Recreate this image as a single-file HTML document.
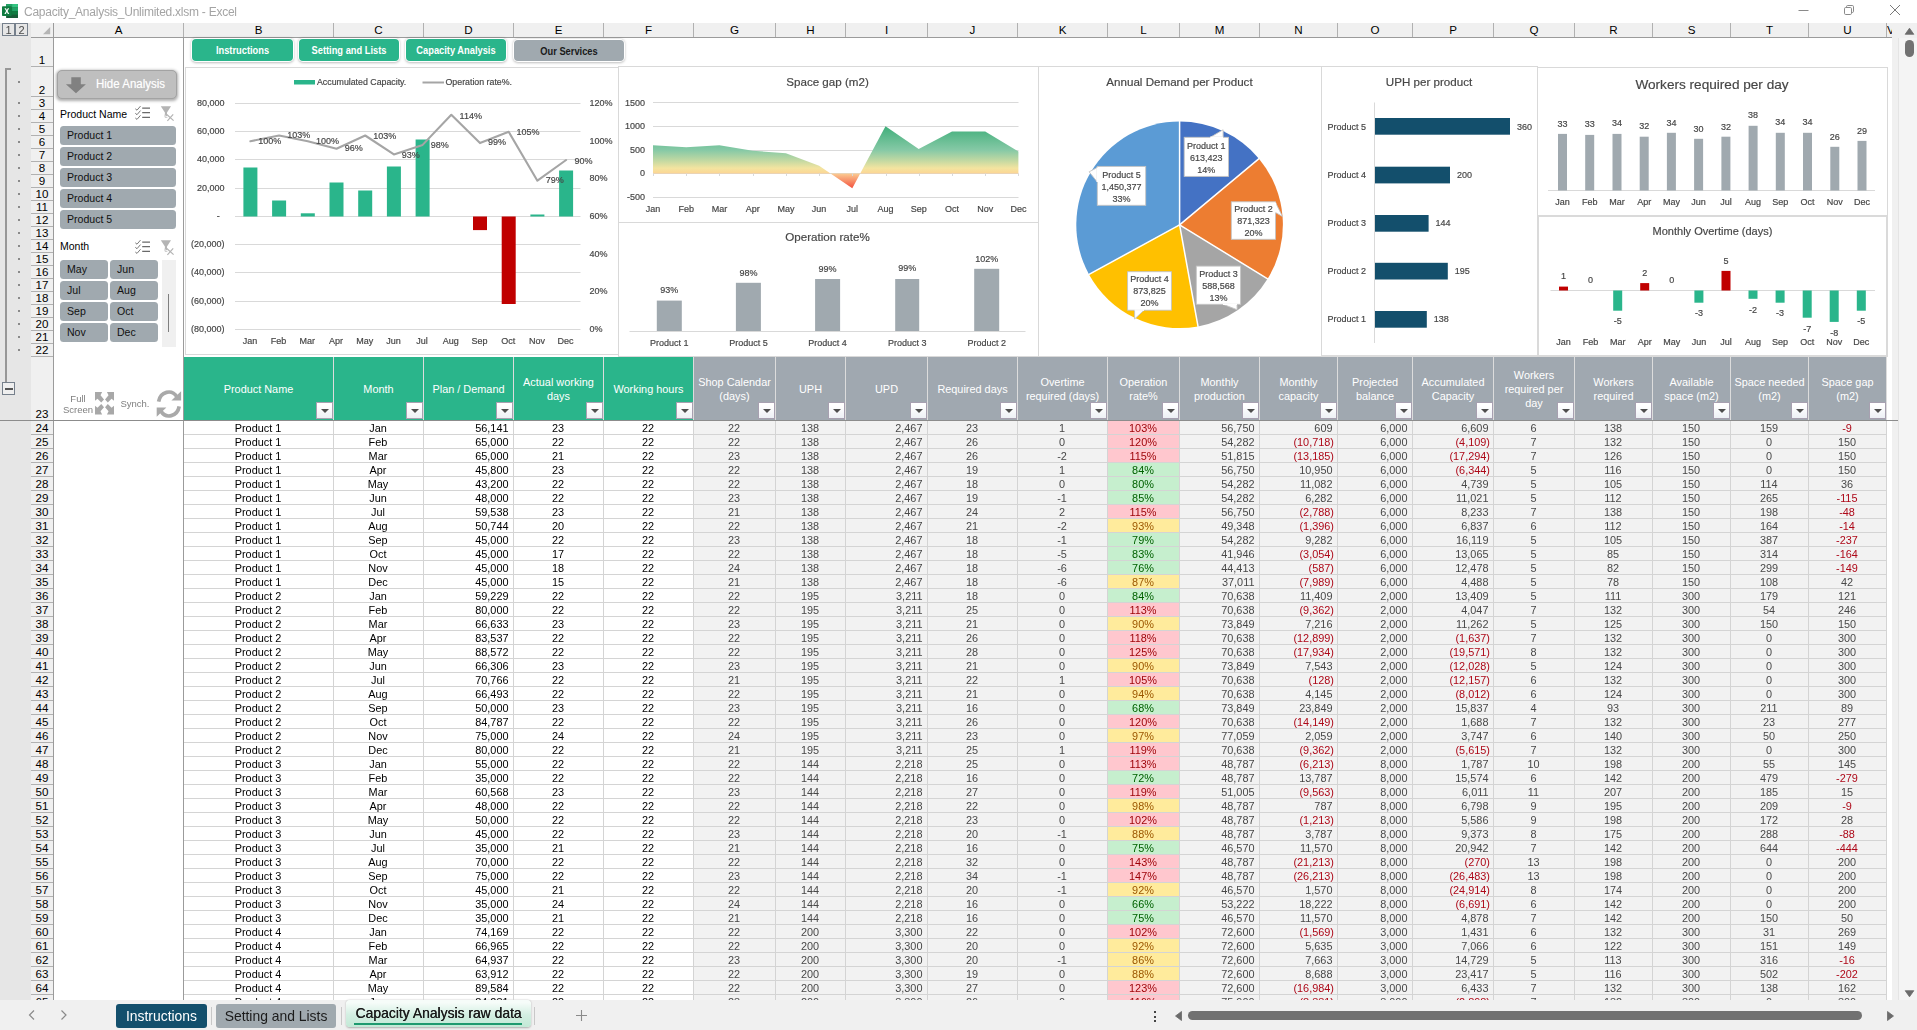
<!DOCTYPE html><html><head><meta charset="utf-8"><title>Capacity Analysis</title><style>
*{box-sizing:border-box;margin:0;padding:0}
html,body{width:1917px;height:1030px;overflow:hidden;background:#fff}
body{position:relative;font-family:"Liberation Sans",sans-serif;font-size:10.9px;color:#000}
.abs{position:absolute}
.colhdr{position:absolute;top:23px;height:15px;background:#f0f0f0;border-bottom:1px solid #9b9b9b;left:31px;width:1862px}
.ch{position:absolute;top:0;height:14px;line-height:14px;text-align:center;font-size:11.6px;color:#000;border-right:1px solid #b1b1b1}
.rowhdr{position:absolute;left:31px;width:23px;background:#f0f0f0;border-right:1px solid #9b9b9b}
.rh{position:absolute;left:0;width:22px;text-align:center;font-size:11.6px;color:#000;border-bottom:1px solid #b1b1b1}
.th{position:absolute;top:357px;height:63px;color:#fff;font-size:10.9px;text-align:center;display:flex;align-items:center;justify-content:center;line-height:14px;border-right:1px solid #dcdcdc;padding-bottom:0px}
.fb{position:absolute;right:0px;bottom:1px;width:17px;height:17px;background:linear-gradient(#ffffff 20%,#edf0f5);border:1px solid #a7a0b0}
.fb:after{content:"";position:absolute;left:3.5px;top:6px;border-left:4px solid transparent;border-right:4px solid transparent;border-top:4.3px solid #4e4e4e}
.tb{position:absolute;left:184px;top:421px;width:1704px;height:579px;overflow:hidden}
.tr{position:absolute;left:0;height:14px;width:1704px}
.td{position:absolute;top:0;height:14px;line-height:14px;border-right:1px solid #d4d4d4;border-bottom:1px solid #d4d4d4;white-space:nowrap;overflow:hidden}
.c{text-align:center;padding-right:1px}
.r{text-align:right}
.g{background:#f2f2f2;color:#484848}
.neg{color:#ad0818}
.opr{background:#ffc7ce;color:#9c0006}
.opg{background:#c6efce;color:#006100}
.opy{background:#ffeb9c;color:#9c5700}
</style></head><body>
<div class="abs" style="left:0;top:0;width:1917px;height:23px;background:#fff"></div>
<svg class="abs" style="left:1.9px;top:3.8px" width="16.1" height="14.2" viewBox="0 0 16.1 14.2">
<rect x="4.1" y="0" width="12" height="14.2" rx="0.8" fill="#185c37"/>
<path d="M4.9 0 H10.1 V3.55 H4.1 V0.8 Q4.1 0 4.9 0 Z" fill="#21a366"/>
<path d="M10.1 0 H15.3 Q16.1 0 16.1 0.8 V3.55 H10.1 Z" fill="#33c481"/>
<rect x="4.1" y="3.55" width="6" height="3.55" fill="#107c41"/><rect x="10.1" y="3.55" width="6" height="3.55" fill="#21a366"/>
<rect x="4.1" y="7.1" width="6" height="3.55" fill="#0e6e39"/><rect x="10.1" y="7.1" width="6" height="3.55" fill="#107c41"/>
<rect x="0" y="2.2" width="9.7" height="9.8" rx="0.8" fill="#107c41"/>
<path d="M2.5 4.2 L3.9 4.2 L4.85 6.1 L5.8 4.2 L7.2 4.2 L5.6 7.1 L7.3 10 L5.9 10 L4.85 8 L3.8 10 L2.4 10 L4.1 7.1 Z" fill="#fff"/>
</svg>
<div class="abs" style="left:24px;top:5px;font-size:12px;line-height:15px;color:#a4a4a4;letter-spacing:-0.25px;will-change:transform">Capacity_Analysis_Unlimited.xlsm - Excel</div>
<svg class="abs" style="left:1790px;top:0" width="127" height="23" viewBox="0 0 127 23">
<path d="M8.5 10.5 H18.5" stroke="#8a8a8a" stroke-width="1" fill="none"/>
<rect x="54.5" y="7.5" width="7" height="7" rx="1.2" stroke="#8a8a8a" stroke-width="1" fill="none"/>
<path d="M56.5 7.5 V6.7 Q56.5 5.5 57.7 5.5 H62.3 Q63.5 5.5 63.5 6.7 V11.3 Q63.5 12.5 62.3 12.5 H61.5" stroke="#8a8a8a" stroke-width="1" fill="none"/>
<path d="M100 5 L110 15 M110 5 L100 15" stroke="#7a7a7a" stroke-width="1" fill="none"/>
</svg>
<div class="abs" style="left:0;top:23px;width:31px;height:977px;background:#e6e6e6"></div>
<div class="abs" style="left:2px;top:23px;width:13px;height:13px;border:1px solid #76808c;font-size:11px;line-height:12px;text-align:center;color:#4a4a4a;will-change:transform">1</div>
<div class="abs" style="left:15px;top:23px;width:13px;height:13px;border:1px solid #76808c;font-size:11px;line-height:12px;text-align:center;color:#4a4a4a;will-change:transform">2</div>
<div class="abs" style="left:5px;top:68px;width:2px;height:314px;background:#979797"></div>
<div class="abs" style="left:5px;top:68px;width:6px;height:2px;background:#979797"></div>
<div class="abs" style="left:2px;top:382px;width:13px;height:13px;border:1px solid #76808c;background:#efefef"></div>
<div class="abs" style="left:5px;top:388px;width:8px;height:2px;background:#555"></div>
<div class="abs" style="left:18px;top:81px;width:2px;height:2px;background:#8a8a8a"></div>
<div class="abs" style="left:18px;top:102px;width:2px;height:2px;background:#8a8a8a"></div>
<div class="abs" style="left:18px;top:115px;width:2px;height:2px;background:#8a8a8a"></div>
<div class="abs" style="left:18px;top:128px;width:2px;height:2px;background:#8a8a8a"></div>
<div class="abs" style="left:18px;top:141px;width:2px;height:2px;background:#8a8a8a"></div>
<div class="abs" style="left:18px;top:154px;width:2px;height:2px;background:#8a8a8a"></div>
<div class="abs" style="left:18px;top:167px;width:2px;height:2px;background:#8a8a8a"></div>
<div class="abs" style="left:18px;top:180px;width:2px;height:2px;background:#8a8a8a"></div>
<div class="abs" style="left:18px;top:193px;width:2px;height:2px;background:#8a8a8a"></div>
<div class="abs" style="left:18px;top:206px;width:2px;height:2px;background:#8a8a8a"></div>
<div class="abs" style="left:18px;top:219px;width:2px;height:2px;background:#8a8a8a"></div>
<div class="abs" style="left:18px;top:232px;width:2px;height:2px;background:#8a8a8a"></div>
<div class="abs" style="left:18px;top:245px;width:2px;height:2px;background:#8a8a8a"></div>
<div class="abs" style="left:18px;top:258px;width:2px;height:2px;background:#8a8a8a"></div>
<div class="abs" style="left:18px;top:271px;width:2px;height:2px;background:#8a8a8a"></div>
<div class="abs" style="left:18px;top:284px;width:2px;height:2px;background:#8a8a8a"></div>
<div class="abs" style="left:18px;top:297px;width:2px;height:2px;background:#8a8a8a"></div>
<div class="abs" style="left:18px;top:310px;width:2px;height:2px;background:#8a8a8a"></div>
<div class="abs" style="left:18px;top:323px;width:2px;height:2px;background:#8a8a8a"></div>
<div class="abs" style="left:18px;top:336px;width:2px;height:2px;background:#8a8a8a"></div>
<div class="abs" style="left:18px;top:349px;width:2px;height:2px;background:#8a8a8a"></div>
<div class="colhdr">
<div class="ch" style="left:0px;width:23px;border-right:1px solid #9b9b9b"></div>
<svg class="abs" style="left:12px;top:4px" width="8" height="8"><path d="M7.2 0 L7.2 7.2 L0 7.2 Z" fill="#b5b5b5"/></svg>
<div class="ch" style="left:23px;width:130px">A</div>
<div class="ch" style="left:153px;width:150px">B</div>
<div class="ch" style="left:303px;width:90px">C</div>
<div class="ch" style="left:393px;width:90px">D</div>
<div class="ch" style="left:483px;width:90px">E</div>
<div class="ch" style="left:573px;width:90px">F</div>
<div class="ch" style="left:663px;width:82px">G</div>
<div class="ch" style="left:745px;width:70px">H</div>
<div class="ch" style="left:815px;width:82px">I</div>
<div class="ch" style="left:897px;width:90px">J</div>
<div class="ch" style="left:987px;width:90px">K</div>
<div class="ch" style="left:1077px;width:72px">L</div>
<div class="ch" style="left:1149px;width:80px">M</div>
<div class="ch" style="left:1229px;width:78px">N</div>
<div class="ch" style="left:1307px;width:75px">O</div>
<div class="ch" style="left:1382px;width:81px">P</div>
<div class="ch" style="left:1463px;width:81px">Q</div>
<div class="ch" style="left:1544px;width:78px">R</div>
<div class="ch" style="left:1622px;width:78px">S</div>
<div class="ch" style="left:1700px;width:78px">T</div>
<div class="ch" style="left:1778px;width:78px">U</div>
<div class="ch" style="left:1856px;width:6px;border-right:none;overflow:hidden;text-align:left">V</div>
</div>
<div class="rowhdr" style="top:38px;height:962px">
<div class="rh" style="top:0px;height:29px;line-height:11px;padding-top:16px;">1</div>
<div class="rh" style="top:29px;height:30px;line-height:11px;padding-top:17px;">2</div>
<div class="rh" style="top:59px;height:13px;line-height:11px;padding-top:0px;">3</div>
<div class="rh" style="top:72px;height:13px;line-height:11px;padding-top:0px;">4</div>
<div class="rh" style="top:85px;height:13px;line-height:11px;padding-top:0px;">5</div>
<div class="rh" style="top:98px;height:13px;line-height:11px;padding-top:0px;">6</div>
<div class="rh" style="top:111px;height:13px;line-height:11px;padding-top:0px;">7</div>
<div class="rh" style="top:124px;height:13px;line-height:11px;padding-top:0px;">8</div>
<div class="rh" style="top:137px;height:13px;line-height:11px;padding-top:0px;">9</div>
<div class="rh" style="top:150px;height:13px;line-height:11px;padding-top:0px;">10</div>
<div class="rh" style="top:163px;height:13px;line-height:11px;padding-top:0px;">11</div>
<div class="rh" style="top:176px;height:13px;line-height:11px;padding-top:0px;">12</div>
<div class="rh" style="top:189px;height:13px;line-height:11px;padding-top:0px;">13</div>
<div class="rh" style="top:202px;height:13px;line-height:11px;padding-top:0px;">14</div>
<div class="rh" style="top:215px;height:13px;line-height:11px;padding-top:0px;">15</div>
<div class="rh" style="top:228px;height:13px;line-height:11px;padding-top:0px;">16</div>
<div class="rh" style="top:241px;height:13px;line-height:11px;padding-top:0px;">17</div>
<div class="rh" style="top:254px;height:13px;line-height:11px;padding-top:0px;">18</div>
<div class="rh" style="top:267px;height:13px;line-height:11px;padding-top:0px;">19</div>
<div class="rh" style="top:280px;height:13px;line-height:11px;padding-top:0px;">20</div>
<div class="rh" style="top:293px;height:13px;line-height:11px;padding-top:0px;">21</div>
<div class="rh" style="top:306px;height:13px;line-height:11px;padding-top:0px;">22</div>
<div class="rh" style="top:319px;height:64px;line-height:11px;padding-top:51px;border-bottom:1px solid #8c8c8c;">23</div>
<div class="rh" style="top:383px;height:14px;line-height:14px;padding-top:0px;">24</div>
<div class="rh" style="top:397px;height:14px;line-height:14px;padding-top:0px;">25</div>
<div class="rh" style="top:411px;height:14px;line-height:14px;padding-top:0px;">26</div>
<div class="rh" style="top:425px;height:14px;line-height:14px;padding-top:0px;">27</div>
<div class="rh" style="top:439px;height:14px;line-height:14px;padding-top:0px;">28</div>
<div class="rh" style="top:453px;height:14px;line-height:14px;padding-top:0px;">29</div>
<div class="rh" style="top:467px;height:14px;line-height:14px;padding-top:0px;">30</div>
<div class="rh" style="top:481px;height:14px;line-height:14px;padding-top:0px;">31</div>
<div class="rh" style="top:495px;height:14px;line-height:14px;padding-top:0px;">32</div>
<div class="rh" style="top:509px;height:14px;line-height:14px;padding-top:0px;">33</div>
<div class="rh" style="top:523px;height:14px;line-height:14px;padding-top:0px;">34</div>
<div class="rh" style="top:537px;height:14px;line-height:14px;padding-top:0px;">35</div>
<div class="rh" style="top:551px;height:14px;line-height:14px;padding-top:0px;">36</div>
<div class="rh" style="top:565px;height:14px;line-height:14px;padding-top:0px;">37</div>
<div class="rh" style="top:579px;height:14px;line-height:14px;padding-top:0px;">38</div>
<div class="rh" style="top:593px;height:14px;line-height:14px;padding-top:0px;">39</div>
<div class="rh" style="top:607px;height:14px;line-height:14px;padding-top:0px;">40</div>
<div class="rh" style="top:621px;height:14px;line-height:14px;padding-top:0px;">41</div>
<div class="rh" style="top:635px;height:14px;line-height:14px;padding-top:0px;">42</div>
<div class="rh" style="top:649px;height:14px;line-height:14px;padding-top:0px;">43</div>
<div class="rh" style="top:663px;height:14px;line-height:14px;padding-top:0px;">44</div>
<div class="rh" style="top:677px;height:14px;line-height:14px;padding-top:0px;">45</div>
<div class="rh" style="top:691px;height:14px;line-height:14px;padding-top:0px;">46</div>
<div class="rh" style="top:705px;height:14px;line-height:14px;padding-top:0px;">47</div>
<div class="rh" style="top:719px;height:14px;line-height:14px;padding-top:0px;">48</div>
<div class="rh" style="top:733px;height:14px;line-height:14px;padding-top:0px;">49</div>
<div class="rh" style="top:747px;height:14px;line-height:14px;padding-top:0px;">50</div>
<div class="rh" style="top:761px;height:14px;line-height:14px;padding-top:0px;">51</div>
<div class="rh" style="top:775px;height:14px;line-height:14px;padding-top:0px;">52</div>
<div class="rh" style="top:789px;height:14px;line-height:14px;padding-top:0px;">53</div>
<div class="rh" style="top:803px;height:14px;line-height:14px;padding-top:0px;">54</div>
<div class="rh" style="top:817px;height:14px;line-height:14px;padding-top:0px;">55</div>
<div class="rh" style="top:831px;height:14px;line-height:14px;padding-top:0px;">56</div>
<div class="rh" style="top:845px;height:14px;line-height:14px;padding-top:0px;">57</div>
<div class="rh" style="top:859px;height:14px;line-height:14px;padding-top:0px;">58</div>
<div class="rh" style="top:873px;height:14px;line-height:14px;padding-top:0px;">59</div>
<div class="rh" style="top:887px;height:14px;line-height:14px;padding-top:0px;">60</div>
<div class="rh" style="top:901px;height:14px;line-height:14px;padding-top:0px;">61</div>
<div class="rh" style="top:915px;height:14px;line-height:14px;padding-top:0px;">62</div>
<div class="rh" style="top:929px;height:14px;line-height:14px;padding-top:0px;">63</div>
<div class="rh" style="top:943px;height:14px;line-height:14px;padding-top:0px;">64</div>
<div class="rh" style="top:957px;height:14px;line-height:14px;padding-top:0px;">65</div>
</div>
<div class="abs" style="left:183px;top:38px;width:1px;height:962px;background:#9b9b9b"></div>
<div class="abs" style="left:192px;top:39px;width:101px;height:22px;border-radius:4px;background:#2ab58b;box-shadow:0 0 0 1px #fff,0 0.5px 2.5px 1px rgba(0,0,0,.26)"></div>
<div class="abs" style="left:192px;top:39px;width:101px;height:22px;color:#fff;font-size:10px;font-weight:bold;line-height:24px;text-align:center;transform:scaleX(0.93);white-space:nowrap">Instructions</div>
<div class="abs" style="left:299px;top:39px;width:100px;height:22px;border-radius:4px;background:#2ab58b;box-shadow:0 0 0 1px #fff,0 0.5px 2.5px 1px rgba(0,0,0,.26)"></div>
<div class="abs" style="left:299px;top:39px;width:100px;height:22px;color:#fff;font-size:10px;font-weight:bold;line-height:24px;text-align:center;transform:scaleX(0.93);white-space:nowrap">Setting and Lists</div>
<div class="abs" style="left:406px;top:39px;width:100px;height:22px;border-radius:4px;background:#2ab58b;box-shadow:0 0 0 1px #fff,0 0.5px 2.5px 1px rgba(0,0,0,.26)"></div>
<div class="abs" style="left:406px;top:39px;width:100px;height:22px;color:#fff;font-size:10px;font-weight:bold;line-height:24px;text-align:center;transform:scaleX(0.93);white-space:nowrap">Capacity Analysis</div>
<div class="abs" style="left:514px;top:40px;width:110px;height:21px;border-radius:4px;background:#a0a9af;box-shadow:0 0 0 1px #fff,0 0.5px 2.5px 1px rgba(0,0,0,.26)"></div>
<div class="abs" style="left:514px;top:40px;width:110px;height:21px;color:#1a1a1a;font-size:10px;font-weight:bold;line-height:23px;text-align:center;transform:scaleX(0.93);white-space:nowrap">Our Services</div>
<div class="abs" style="left:1892px;top:23px;width:25px;height:977px;background:#f0f0f0"></div>
<div class="abs" style="left:1898px;top:38px;width:19px;height:962px;background:#f4f4f4;border-left:1px solid #e4e4e4"></div>
<svg class="abs" style="left:1904px;top:27px" width="11" height="9"><path d="M5.5 1.2 L9.8 7.3 L1.2 7.3 Z" fill="#6b6b6b" stroke="#6b6b6b" stroke-width="0.8" stroke-linejoin="round"/></svg>
<div class="abs" style="left:1905px;top:40px;width:9px;height:17px;border-radius:4.5px;background:#717171"></div>
<svg class="abs" style="left:1904px;top:989px" width="11" height="9"><path d="M1.2 1.7 L9.8 1.7 L5.5 7.8 Z" fill="#6b6b6b" stroke="#6b6b6b" stroke-width="0.8" stroke-linejoin="round"/></svg>
<div class="abs" style="left:0;top:1000px;width:1917px;height:30px;background:#f0f0f0"></div>
<svg class="abs" style="left:24px;top:1008px" width="50" height="14" viewBox="0 0 50 14">
<path d="M10 2.5 L5.5 7 L10 11.5" stroke="#8a8a8a" stroke-width="1.2" fill="none"/>
<path d="M37.5 2.5 L42 7 L37.5 11.5" stroke="#8a8a8a" stroke-width="1.2" fill="none"/></svg>
<div class="abs" style="left:116px;top:1004px;width:91px;height:24px;border-radius:3px;background:#134f6c;color:#fff;font-size:13.9px;line-height:24px;text-align:center;will-change:transform">Instructions</div>
<div class="abs" style="left:216px;top:1004px;width:120px;height:24px;border-radius:3px;background:#a0a9af;color:#1b1b1b;font-size:13.9px;line-height:24px;text-align:center;will-change:transform">Setting and Lists</div>
<div class="abs" style="left:346px;top:1000px;width:185px;height:27px;border-radius:4px;background:linear-gradient(#f6fcf9 10%,#d3efe2 55%,#c2e9d6);color:#1b1b1b;font-size:13.9px;line-height:26px;text-align:center;box-shadow:0 0.5px 2px rgba(0,0,0,.28);text-shadow:0.3px 0 0 #1b1b1b;will-change:transform">Capacity Analysis raw data</div>
<div class="abs" style="left:354px;top:1023px;width:168px;height:2px;background:#1e9a6f"></div>
<div class="abs" style="left:211px;top:1007px;width:1px;height:18px;background:#c8c8c8"></div>
<div class="abs" style="left:341px;top:1007px;width:1px;height:18px;background:#c8c8c8"></div>
<div class="abs" style="left:534px;top:1007px;width:1px;height:18px;background:#c8c8c8"></div>
<svg class="abs" style="left:575px;top:1009px" width="13" height="13"><path d="M6.5 1 V12 M1 6.5 H12" stroke="#8a8a8a" stroke-width="1.1" fill="none"/></svg>
<div class="abs" style="left:1154px;top:1011px;width:2px;height:2px;background:#444"></div>
<div class="abs" style="left:1154px;top:1015.5px;width:2px;height:2px;background:#444"></div>
<div class="abs" style="left:1154px;top:1020px;width:2px;height:2px;background:#444"></div>
<svg class="abs" style="left:1174px;top:1010px" width="9" height="12"><path d="M7.5 1.5 L7.5 10.5 L1.5 6 Z" fill="#6b6b6b" stroke="#6b6b6b" stroke-width="0.8" stroke-linejoin="round"/></svg>
<div class="abs" style="left:1188px;top:1011px;width:674px;height:9px;border-radius:4.5px;background:#717171"></div>
<svg class="abs" style="left:1886px;top:1010px" width="9" height="12"><path d="M1.5 1.5 L1.5 10.5 L7.5 6 Z" fill="#6b6b6b" stroke="#6b6b6b" stroke-width="0.8" stroke-linejoin="round"/></svg>
<div class="abs" style="left:57px;top:70px;width:120px;height:29px;border-radius:5px;background:#bfbfbf;border:1px solid #a3a3a3;box-shadow:0 1px 3px 0.5px rgba(0,0,0,.32)"></div>
<svg class="abs" style="left:65px;top:76px" width="22" height="18" viewBox="0 0 22 18"><path d="M6.3 1.2 H15.8 V8.3 H20.9 L11 17.2 L0.9 8.3 H6.3 Z" fill="#818181"/></svg>
<div class="abs" style="left:96px;top:76.5px;font-size:12.3px;line-height:14px;color:#fff;transform:scaleX(0.935);transform-origin:left center;white-space:nowrap;text-shadow:0 0 1px rgba(255,255,255,.5)">Hide Analysis</div>
<div class="abs" style="left:60px;top:107px;font-size:10.5px;line-height:14px;color:#000">Product Name</div>
<svg class="abs" style="left:134px;top:105px" width="42" height="17" viewBox="0 0 42 17">
<g stroke="#6a6a6a" stroke-width="1.2" fill="none">
<path d="M8.2 3.2 H16 M8.2 7.6 H16 M8.2 12.4 H16"/></g>
<g stroke="#6a6a6a" stroke-width="0.9" fill="none">
<path d="M1.3 3.8 L3 5.2 L6.5 1.1 M1.3 8.3 L3 9.7 L6.5 5.6 M1.3 13 L3 14.4 L6.5 10.3"/></g>
<path d="M26.8 1.3 H37 L33 7.6 V11.3 L30.9 10.2 V7.6 Z" fill="#b4b4b4"/>
<path d="M32.8 9.5 L39.6 15.6 M39.2 9.3 L33.4 15.8" stroke="#b4b4b4" stroke-width="1.2" fill="none"/>
<path d="M31 9.6 v2.7 h2.4" stroke="#c6c6c6" stroke-width="1" fill="none"/>
</svg>
<div class="abs" style="left:60px;top:126px;width:116px;height:19px;border-radius:3.5px;background:#a0a9af;font-size:10.55px;line-height:19px;padding-left:7px;color:#111">Product 1</div>
<div class="abs" style="left:60px;top:147px;width:116px;height:19px;border-radius:3.5px;background:#a0a9af;font-size:10.55px;line-height:19px;padding-left:7px;color:#111">Product 2</div>
<div class="abs" style="left:60px;top:168px;width:116px;height:19px;border-radius:3.5px;background:#a0a9af;font-size:10.55px;line-height:19px;padding-left:7px;color:#111">Product 3</div>
<div class="abs" style="left:60px;top:189px;width:116px;height:19px;border-radius:3.5px;background:#a0a9af;font-size:10.55px;line-height:19px;padding-left:7px;color:#111">Product 4</div>
<div class="abs" style="left:60px;top:210px;width:116px;height:19px;border-radius:3.5px;background:#a0a9af;font-size:10.55px;line-height:19px;padding-left:7px;color:#111">Product 5</div>
<div class="abs" style="left:60px;top:239px;font-size:10.5px;line-height:14px;color:#000">Month</div>
<svg class="abs" style="left:134px;top:239px" width="42" height="17" viewBox="0 0 42 17">
<g stroke="#6a6a6a" stroke-width="1.2" fill="none">
<path d="M8.2 3.2 H16 M8.2 7.6 H16 M8.2 12.4 H16"/></g>
<g stroke="#6a6a6a" stroke-width="0.9" fill="none">
<path d="M1.3 3.8 L3 5.2 L6.5 1.1 M1.3 8.3 L3 9.7 L6.5 5.6 M1.3 13 L3 14.4 L6.5 10.3"/></g>
<path d="M26.8 1.3 H37 L33 7.6 V11.3 L30.9 10.2 V7.6 Z" fill="#b4b4b4"/>
<path d="M32.8 9.5 L39.6 15.6 M39.2 9.3 L33.4 15.8" stroke="#b4b4b4" stroke-width="1.2" fill="none"/>
<path d="M31 9.6 v2.7 h2.4" stroke="#c6c6c6" stroke-width="1" fill="none"/>
</svg>
<div class="abs" style="left:60px;top:260px;width:48px;height:19px;border-radius:3.5px;background:#a0a9af;font-size:10.55px;line-height:19px;padding-left:7px;color:#111">May</div>
<div class="abs" style="left:110px;top:260px;width:48px;height:19px;border-radius:3.5px;background:#a0a9af;font-size:10.55px;line-height:19px;padding-left:7px;color:#111">Jun</div>
<div class="abs" style="left:60px;top:281px;width:48px;height:19px;border-radius:3.5px;background:#a0a9af;font-size:10.55px;line-height:19px;padding-left:7px;color:#111">Jul</div>
<div class="abs" style="left:110px;top:281px;width:48px;height:19px;border-radius:3.5px;background:#a0a9af;font-size:10.55px;line-height:19px;padding-left:7px;color:#111">Aug</div>
<div class="abs" style="left:60px;top:302px;width:48px;height:19px;border-radius:3.5px;background:#a0a9af;font-size:10.55px;line-height:19px;padding-left:7px;color:#111">Sep</div>
<div class="abs" style="left:110px;top:302px;width:48px;height:19px;border-radius:3.5px;background:#a0a9af;font-size:10.55px;line-height:19px;padding-left:7px;color:#111">Oct</div>
<div class="abs" style="left:60px;top:323px;width:48px;height:19px;border-radius:3.5px;background:#a0a9af;font-size:10.55px;line-height:19px;padding-left:7px;color:#111">Nov</div>
<div class="abs" style="left:110px;top:323px;width:48px;height:19px;border-radius:3.5px;background:#a0a9af;font-size:10.55px;line-height:19px;padding-left:7px;color:#111">Dec</div>
<div class="abs" style="left:162px;top:260px;width:14px;height:87px;background:#f0f0f0"></div>
<div class="abs" style="left:168px;top:294px;width:1px;height:38px;background:#7f7f7f"></div>
<div class="abs" style="left:58px;top:393.2px;width:40px;font-size:9.5px;line-height:11.4px;color:#7f7f7f;text-align:center;will-change:transform">Full<br>Screen</div>
<svg class="abs" style="left:94.9px;top:392.1px" width="19.07" height="22.56" viewBox="0 0 19.07 22.56"><g fill="#a8a8a8"><path d="M0.00 0.00 L7.13 0.00 L5.53 3.35 L9.02 7.42 L6.26 10.48 L2.47 6.84 L0.00 8.73 Z"/><path d="M19.07 0.00 L11.94 0.00 L13.54 3.35 L10.05 7.42 L12.81 10.48 L16.60 6.84 L19.07 8.73 Z"/><path d="M0.00 22.56 L7.13 22.56 L5.53 19.21 L9.02 15.14 L6.26 12.08 L2.47 15.72 L0.00 13.83 Z"/><path d="M19.07 22.56 L11.94 22.56 L13.54 19.21 L10.05 15.14 L12.81 12.08 L16.60 15.72 L19.07 13.83 Z"/></g></svg>
<div class="abs" style="left:118px;top:397.5px;width:34px;font-size:9.5px;line-height:11px;color:#7f7f7f;text-align:center;will-change:transform">Synch.</div>
<svg class="abs" style="left:156px;top:389px" width="26" height="30" viewBox="0 0 26 30">
<g fill="none" stroke="#a9a9a9" stroke-width="3.7">
<path d="M2.6 12.6 A 10.3 12 0 0 1 21 8"/>
<path d="M23.2 17.4 A 10.3 12 0 0 1 4.8 22"/>
</g>
<path d="M25.1 2.2 V11.6 H15.4 Z" fill="#a9a9a9"/>
<path d="M0.7 27.8 V18.4 H10.4 Z" fill="#a9a9a9"/>
</svg>
<svg class="abs" style="left:0;top:0" width="1917" height="1030" viewBox="0 0 1917 1030" font-family="Liberation Sans, sans-serif"><defs>
<linearGradient id="sg" gradientUnits="userSpaceOnUse" x1="0" y1="126" x2="0" y2="188">
<stop offset="0" stop-color="#3fae7a"/><stop offset="0.39" stop-color="#86c9a6"/><stop offset="0.56" stop-color="#c3d9a2"/>
<stop offset="0.68" stop-color="#f3e4a0"/><stop offset="0.75" stop-color="#fbd896"/><stop offset="0.79" stop-color="#fabf8a"/><stop offset="1" stop-color="#f4533f"/>
</linearGradient></defs><rect x="185.5" y="67.5" width="433" height="287" fill="#fff" stroke="#d9d9d9"/>
<rect x="294" y="80" width="21" height="4.5" fill="#2ab58b"/>
<text x="317.0" y="85.0" text-anchor="start" font-size="8.8" fill="#464646" stroke="#464646" stroke-width="0.18" >Accumulated Capacity.</text>
<path d="M422.5 82.5 H444" stroke="#a5a5a5" stroke-width="2"/>
<text x="445.5" y="85.0" text-anchor="start" font-size="8.8" fill="#464646" stroke="#464646" stroke-width="0.18" >Operation rate%.</text>
<path d="M235 103.5 H580.5" stroke="#d9d9d9" stroke-width="1"/>
<text x="224.5" y="106.2" text-anchor="end" font-size="9.0" fill="#464646" stroke="#464646" stroke-width="0.18" >80,000</text>
<path d="M235 131.5 H580.5" stroke="#d9d9d9" stroke-width="1"/>
<text x="224.5" y="134.2" text-anchor="end" font-size="9.0" fill="#464646" stroke="#464646" stroke-width="0.18" >60,000</text>
<path d="M235 159.5 H580.5" stroke="#d9d9d9" stroke-width="1"/>
<text x="224.5" y="162.2" text-anchor="end" font-size="9.0" fill="#464646" stroke="#464646" stroke-width="0.18" >40,000</text>
<path d="M235 188.5 H580.5" stroke="#d9d9d9" stroke-width="1"/>
<text x="224.5" y="191.2" text-anchor="end" font-size="9.0" fill="#464646" stroke="#464646" stroke-width="0.18" >20,000</text>
<path d="M235 216.5 H580.5" stroke="#d9d9d9" stroke-width="1"/>
<text x="218.3" y="219.0" text-anchor="middle" font-size="9.0" fill="#464646" stroke="#464646" stroke-width="0.18" >-</text>
<path d="M235 244.5 H580.5" stroke="#d9d9d9" stroke-width="1"/>
<text x="224.5" y="247.2" text-anchor="end" font-size="9.0" fill="#464646" stroke="#464646" stroke-width="0.18" >(20,000)</text>
<path d="M235 272.5 H580.5" stroke="#d9d9d9" stroke-width="1"/>
<text x="224.5" y="275.2" text-anchor="end" font-size="9.0" fill="#464646" stroke="#464646" stroke-width="0.18" >(40,000)</text>
<path d="M235 301.5 H580.5" stroke="#d9d9d9" stroke-width="1"/>
<text x="224.5" y="304.2" text-anchor="end" font-size="9.0" fill="#464646" stroke="#464646" stroke-width="0.18" >(60,000)</text>
<path d="M235 329.5 H580.5" stroke="#d9d9d9" stroke-width="1"/>
<text x="224.5" y="332.2" text-anchor="end" font-size="9.0" fill="#464646" stroke="#464646" stroke-width="0.18" >(80,000)</text>
<text x="589.5" y="106.0" text-anchor="start" font-size="9.0" fill="#464646" stroke="#464646" stroke-width="0.18" >120%</text>
<text x="589.5" y="144.1" text-anchor="start" font-size="9.0" fill="#464646" stroke="#464646" stroke-width="0.18" >100%</text>
<text x="589.5" y="181.1" text-anchor="start" font-size="9.0" fill="#464646" stroke="#464646" stroke-width="0.18" >80%</text>
<text x="589.5" y="218.9" text-anchor="start" font-size="9.0" fill="#464646" stroke="#464646" stroke-width="0.18" >60%</text>
<text x="589.5" y="257.0" text-anchor="start" font-size="9.0" fill="#464646" stroke="#464646" stroke-width="0.18" >40%</text>
<text x="589.5" y="293.7" text-anchor="start" font-size="9.0" fill="#464646" stroke="#464646" stroke-width="0.18" >20%</text>
<text x="589.5" y="331.8" text-anchor="start" font-size="9.0" fill="#464646" stroke="#464646" stroke-width="0.18" >0%</text>
<rect x="243.4" y="167.5" width="14" height="49.0" fill="#2ab58b"/>
<rect x="272.1" y="200.5" width="14" height="16.0" fill="#2ab58b"/>
<rect x="300.8" y="213.3" width="14" height="3.2" fill="#2ab58b"/>
<rect x="329.5" y="182.5" width="14" height="34.0" fill="#2ab58b"/>
<rect x="358.2" y="190.5" width="14" height="26.0" fill="#2ab58b"/>
<rect x="386.9" y="166.5" width="14" height="50.0" fill="#2ab58b"/>
<rect x="415.6" y="139.5" width="14" height="77.0" fill="#2ab58b"/>
<rect x="473.0" y="216.5" width="14" height="13.6" fill="#c00000"/>
<rect x="501.7" y="216.5" width="14" height="87.5" fill="#c00000"/>
<rect x="530.4" y="214.5" width="14" height="2.0" fill="#2ab58b"/>
<rect x="559.1" y="170.5" width="14" height="46.0" fill="#2ab58b"/>
<text x="249.9" y="344.0" text-anchor="middle" font-size="9.0" fill="#464646" stroke="#464646" stroke-width="0.18" >Jan</text>
<text x="278.6" y="344.0" text-anchor="middle" font-size="9.0" fill="#464646" stroke="#464646" stroke-width="0.18" >Feb</text>
<text x="307.3" y="344.0" text-anchor="middle" font-size="9.0" fill="#464646" stroke="#464646" stroke-width="0.18" >Mar</text>
<text x="336.0" y="344.0" text-anchor="middle" font-size="9.0" fill="#464646" stroke="#464646" stroke-width="0.18" >Apr</text>
<text x="364.7" y="344.0" text-anchor="middle" font-size="9.0" fill="#464646" stroke="#464646" stroke-width="0.18" >May</text>
<text x="393.4" y="344.0" text-anchor="middle" font-size="9.0" fill="#464646" stroke="#464646" stroke-width="0.18" >Jun</text>
<text x="422.1" y="344.0" text-anchor="middle" font-size="9.0" fill="#464646" stroke="#464646" stroke-width="0.18" >Jul</text>
<text x="450.8" y="344.0" text-anchor="middle" font-size="9.0" fill="#464646" stroke="#464646" stroke-width="0.18" >Aug</text>
<text x="479.5" y="344.0" text-anchor="middle" font-size="9.0" fill="#464646" stroke="#464646" stroke-width="0.18" >Sep</text>
<text x="508.2" y="344.0" text-anchor="middle" font-size="9.0" fill="#464646" stroke="#464646" stroke-width="0.18" >Oct</text>
<text x="536.9" y="344.0" text-anchor="middle" font-size="9.0" fill="#464646" stroke="#464646" stroke-width="0.18" >Nov</text>
<text x="565.6" y="344.0" text-anchor="middle" font-size="9.0" fill="#464646" stroke="#464646" stroke-width="0.18" >Dec</text>
<polyline fill="none" stroke="#a5a5a5" stroke-width="2.1" stroke-linejoin="round" stroke-linecap="round" points="250.4,141.2 279.1,135.5 307.8,141.2 336.5,148.7 365.2,135.5 393.9,154.4 422.6,144.9 451.3,114.8 480.0,143.1 508.7,131.8 537.4,180.7 566.1,160.0"/>
<text x="269.8" y="144.2" text-anchor="middle" font-size="9.0" fill="#464646" stroke="#464646" stroke-width="0.18" >100%</text>
<text x="298.8" y="137.8" text-anchor="middle" font-size="9.0" fill="#464646" stroke="#464646" stroke-width="0.18" >103%</text>
<text x="327.5" y="144.1" text-anchor="middle" font-size="9.0" fill="#464646" stroke="#464646" stroke-width="0.18" >100%</text>
<text x="353.7" y="151.1" text-anchor="middle" font-size="9.0" fill="#464646" stroke="#464646" stroke-width="0.18" >96%</text>
<text x="384.8" y="138.8" text-anchor="middle" font-size="9.0" fill="#464646" stroke="#464646" stroke-width="0.18" >103%</text>
<text x="410.7" y="158.0" text-anchor="middle" font-size="9.0" fill="#464646" stroke="#464646" stroke-width="0.18" >93%</text>
<text x="439.7" y="147.9" text-anchor="middle" font-size="9.0" fill="#464646" stroke="#464646" stroke-width="0.18" >98%</text>
<text x="470.8" y="118.9" text-anchor="middle" font-size="9.0" fill="#464646" stroke="#464646" stroke-width="0.18" >114%</text>
<text x="497.0" y="144.8" text-anchor="middle" font-size="9.0" fill="#464646" stroke="#464646" stroke-width="0.18" >99%</text>
<text x="528.0" y="135.0" text-anchor="middle" font-size="9.0" fill="#464646" stroke="#464646" stroke-width="0.18" >105%</text>
<text x="554.7" y="183.2" text-anchor="middle" font-size="9.0" fill="#464646" stroke="#464646" stroke-width="0.18" >79%</text>
<text x="583.4" y="164.0" text-anchor="middle" font-size="9.0" fill="#464646" stroke="#464646" stroke-width="0.18" >90%</text>
<rect x="618.5" y="66.5" width="420" height="156" fill="#fff" stroke="#d9d9d9"/>
<text x="827.5" y="86.0" text-anchor="middle" font-size="11.6" fill="#464646" stroke="#464646" stroke-width="0.18" >Space gap (m2)</text>
<path d="M653 102.5 H1018.5" stroke="#d9d9d9" stroke-width="1"/>
<text x="645.0" y="106.3" text-anchor="end" font-size="9.0" fill="#464646" stroke="#464646" stroke-width="0.18" >1500</text>
<path d="M653 126.5 H1018.5" stroke="#d9d9d9" stroke-width="1"/>
<text x="645.0" y="129.3" text-anchor="end" font-size="9.0" fill="#464646" stroke="#464646" stroke-width="0.18" >1000</text>
<path d="M653 150.5 H1018.5" stroke="#d9d9d9" stroke-width="1"/>
<text x="645.0" y="153.3" text-anchor="end" font-size="9.0" fill="#464646" stroke="#464646" stroke-width="0.18" >500</text>
<path d="M653 173.5 H1018.5" stroke="#d9d9d9" stroke-width="1"/>
<text x="645.0" y="176.3" text-anchor="end" font-size="9.0" fill="#464646" stroke="#464646" stroke-width="0.18" >0</text>
<path d="M653 197.5 H1018.5" stroke="#d9d9d9" stroke-width="1"/>
<text x="645.0" y="200.3" text-anchor="end" font-size="9.0" fill="#464646" stroke="#464646" stroke-width="0.18" >-500</text>
<path d="M653 173.5 L653.0 145.3 L686.2 147.3 L719.4 145.3 L752.7 150.8 L785.9 153.2 L819.1 165.8 L852.3 188.2 L885.5 126.3 L918.7 149.1 L952.0 131.5 L985.2 131.5 L1018.4 151.5 L1018.4 173.5 Z" fill="url(#sg)"/>
<path d="M653.5 173.5 V176" stroke="#d9d9d9" stroke-width="1"/>
<text x="653.0" y="212.3" text-anchor="middle" font-size="9.0" fill="#464646" stroke="#464646" stroke-width="0.18" >Jan</text>
<path d="M686.5 173.5 V176" stroke="#d9d9d9" stroke-width="1"/>
<text x="686.2" y="212.3" text-anchor="middle" font-size="9.0" fill="#464646" stroke="#464646" stroke-width="0.18" >Feb</text>
<path d="M719.5 173.5 V176" stroke="#d9d9d9" stroke-width="1"/>
<text x="719.4" y="212.3" text-anchor="middle" font-size="9.0" fill="#464646" stroke="#464646" stroke-width="0.18" >Mar</text>
<path d="M753.5 173.5 V176" stroke="#d9d9d9" stroke-width="1"/>
<text x="752.7" y="212.3" text-anchor="middle" font-size="9.0" fill="#464646" stroke="#464646" stroke-width="0.18" >Apr</text>
<path d="M786.5 173.5 V176" stroke="#d9d9d9" stroke-width="1"/>
<text x="785.9" y="212.3" text-anchor="middle" font-size="9.0" fill="#464646" stroke="#464646" stroke-width="0.18" >May</text>
<path d="M819.5 173.5 V176" stroke="#d9d9d9" stroke-width="1"/>
<text x="819.1" y="212.3" text-anchor="middle" font-size="9.0" fill="#464646" stroke="#464646" stroke-width="0.18" >Jun</text>
<path d="M852.5 173.5 V176" stroke="#d9d9d9" stroke-width="1"/>
<text x="852.3" y="212.3" text-anchor="middle" font-size="9.0" fill="#464646" stroke="#464646" stroke-width="0.18" >Jul</text>
<path d="M886.5 173.5 V176" stroke="#d9d9d9" stroke-width="1"/>
<text x="885.5" y="212.3" text-anchor="middle" font-size="9.0" fill="#464646" stroke="#464646" stroke-width="0.18" >Aug</text>
<path d="M919.5 173.5 V176" stroke="#d9d9d9" stroke-width="1"/>
<text x="918.7" y="212.3" text-anchor="middle" font-size="9.0" fill="#464646" stroke="#464646" stroke-width="0.18" >Sep</text>
<path d="M952.5 173.5 V176" stroke="#d9d9d9" stroke-width="1"/>
<text x="952.0" y="212.3" text-anchor="middle" font-size="9.0" fill="#464646" stroke="#464646" stroke-width="0.18" >Oct</text>
<path d="M985.5 173.5 V176" stroke="#d9d9d9" stroke-width="1"/>
<text x="985.2" y="212.3" text-anchor="middle" font-size="9.0" fill="#464646" stroke="#464646" stroke-width="0.18" >Nov</text>
<path d="M1018.5 173.5 V176" stroke="#d9d9d9" stroke-width="1"/>
<text x="1018.4" y="212.3" text-anchor="middle" font-size="9.0" fill="#464646" stroke="#464646" stroke-width="0.18" >Dec</text>
<rect x="618.5" y="222.5" width="420" height="134" fill="#fff" stroke="#d9d9d9"/>
<text x="827.5" y="241.0" text-anchor="middle" font-size="11.6" fill="#464646" stroke="#464646" stroke-width="0.18" >Operation rate%</text>
<path d="M629.5 331.5 H1025.5" stroke="#d9d9d9" stroke-width="1"/>
<rect x="656.8" y="300.6" width="25" height="30.4" fill="#a0a9af"/>
<text x="669.3" y="293.0" text-anchor="middle" font-size="9.0" fill="#464646" stroke="#464646" stroke-width="0.18" >93%</text>
<text x="669.3" y="346.2" text-anchor="middle" font-size="9.0" fill="#464646" stroke="#464646" stroke-width="0.18" >Product 1</text>
<rect x="735.9" y="282.8" width="25" height="48.2" fill="#a0a9af"/>
<text x="748.4" y="275.8" text-anchor="middle" font-size="9.0" fill="#464646" stroke="#464646" stroke-width="0.18" >98%</text>
<text x="748.4" y="346.2" text-anchor="middle" font-size="9.0" fill="#464646" stroke="#464646" stroke-width="0.18" >Product 5</text>
<rect x="815.1" y="279.0" width="25" height="52.0" fill="#a0a9af"/>
<text x="827.6" y="271.6" text-anchor="middle" font-size="9.0" fill="#464646" stroke="#464646" stroke-width="0.18" >99%</text>
<text x="827.6" y="346.2" text-anchor="middle" font-size="9.0" fill="#464646" stroke="#464646" stroke-width="0.18" >Product 4</text>
<rect x="895.2" y="279.0" width="24" height="52.0" fill="#a0a9af"/>
<text x="907.2" y="270.9" text-anchor="middle" font-size="9.0" fill="#464646" stroke="#464646" stroke-width="0.18" >99%</text>
<text x="907.2" y="346.2" text-anchor="middle" font-size="9.0" fill="#464646" stroke="#464646" stroke-width="0.18" >Product 3</text>
<rect x="974.2" y="268.8" width="25" height="62.2" fill="#a0a9af"/>
<text x="986.7" y="261.8" text-anchor="middle" font-size="9.0" fill="#464646" stroke="#464646" stroke-width="0.18" >102%</text>
<text x="986.7" y="346.2" text-anchor="middle" font-size="9.0" fill="#464646" stroke="#464646" stroke-width="0.18" >Product 2</text>
<rect x="1038.5" y="66.5" width="283" height="290" fill="#fff" stroke="#d9d9d9"/>
<text x="1179.5" y="86.0" text-anchor="middle" font-size="11.6" fill="#464646" stroke="#464646" stroke-width="0.18" >Annual Demand per Product</text>
<path d="M1179.6 224.8 L1179.60 121.50 A103.3 103.3 0 0 1 1258.98 158.70 Z" fill="#4472c4"/>
<path d="M1179.6 224.8 L1258.98 158.70 A103.3 103.3 0 0 1 1267.63 278.85 Z" fill="#ed7d31"/>
<path d="M1179.6 224.8 L1267.63 278.85 A103.3 103.3 0 0 1 1198.02 326.45 Z" fill="#a5a5a5"/>
<path d="M1179.6 224.8 L1198.02 326.45 A103.3 103.3 0 0 1 1089.02 274.46 Z" fill="#ffc000"/>
<path d="M1179.6 224.8 L1089.02 274.46 A103.3 103.3 0 0 1 1179.60 121.50 Z" fill="#5b9bd5"/>
<path d="M1179.6 224.8 L1179.60 121.50" stroke="#fff" stroke-width="1.5" stroke-linecap="round"/>
<path d="M1179.6 224.8 L1258.98 158.70" stroke="#fff" stroke-width="1.5" stroke-linecap="round"/>
<path d="M1179.6 224.8 L1267.63 278.85" stroke="#fff" stroke-width="1.5" stroke-linecap="round"/>
<path d="M1179.6 224.8 L1198.02 326.45" stroke="#fff" stroke-width="1.5" stroke-linecap="round"/>
<path d="M1179.6 224.8 L1089.02 274.46" stroke="#fff" stroke-width="1.5" stroke-linecap="round"/>
<polygon points="1210.3,137.3 1223.1,129.8 1223.1,137.3" fill="#fff" stroke="#c4c4c4" stroke-width="0.9"/>
<rect x="1184.2" y="137.3" width="44.3" height="39.1" fill="#fff" stroke="#c4c4c4" stroke-width="0.9"/>
<path d="M1210.3 137.3 L1223.1 137.3" stroke="#fff" stroke-width="1.4"/>
<text x="1206.3" y="149.1" text-anchor="middle" font-size="9.0" fill="#464646" stroke="#464646" stroke-width="0.18" >Product 1</text>
<text x="1206.3" y="161.0" text-anchor="middle" font-size="9.0" fill="#464646" stroke="#464646" stroke-width="0.18" >613,423</text>
<text x="1206.3" y="172.6" text-anchor="middle" font-size="9.0" fill="#464646" stroke="#464646" stroke-width="0.18" >14%</text>
<polygon points="1275.5,202.6 1282.5,216.5 1275.5,212.5" fill="#fff" stroke="#c4c4c4" stroke-width="0.9"/>
<rect x="1231.3" y="201.8" width="44.2" height="37.5" fill="#fff" stroke="#c4c4c4" stroke-width="0.9"/>
<path d="M1275.5 202.6 L1275.5 212.5" stroke="#fff" stroke-width="1.4"/>
<text x="1253.4" y="212.0" text-anchor="middle" font-size="9.0" fill="#464646" stroke="#464646" stroke-width="0.18" >Product 2</text>
<text x="1253.4" y="224.1" text-anchor="middle" font-size="9.0" fill="#464646" stroke="#464646" stroke-width="0.18" >871,323</text>
<text x="1253.4" y="236.0" text-anchor="middle" font-size="9.0" fill="#464646" stroke="#464646" stroke-width="0.18" >20%</text>
<polygon points="1223.0,304.3 1237.1,309.7 1237.0,304.3" fill="#fff" stroke="#c4c4c4" stroke-width="0.9"/>
<rect x="1196.3" y="266.1" width="44.3" height="38.2" fill="#fff" stroke="#c4c4c4" stroke-width="0.9"/>
<path d="M1223.0 304.3 L1237.0 304.3" stroke="#fff" stroke-width="1.4"/>
<text x="1218.4" y="277.0" text-anchor="middle" font-size="9.0" fill="#464646" stroke="#464646" stroke-width="0.18" >Product 3</text>
<text x="1218.4" y="289.1" text-anchor="middle" font-size="9.0" fill="#464646" stroke="#464646" stroke-width="0.18" >588,568</text>
<text x="1218.4" y="300.8" text-anchor="middle" font-size="9.0" fill="#464646" stroke="#464646" stroke-width="0.18" >13%</text>
<polygon points="1134.6,310.2 1134.6,319.0 1144.0,310.2" fill="#fff" stroke="#c4c4c4" stroke-width="0.9"/>
<rect x="1127.6" y="271.7" width="43.8" height="38.5" fill="#fff" stroke="#c4c4c4" stroke-width="0.9"/>
<path d="M1134.6 310.2 L1144.0 310.2" stroke="#fff" stroke-width="1.4"/>
<text x="1149.5" y="282.2" text-anchor="middle" font-size="9.0" fill="#464646" stroke="#464646" stroke-width="0.18" >Product 4</text>
<text x="1149.5" y="294.2" text-anchor="middle" font-size="9.0" fill="#464646" stroke="#464646" stroke-width="0.18" >873,825</text>
<text x="1149.5" y="305.9" text-anchor="middle" font-size="9.0" fill="#464646" stroke="#464646" stroke-width="0.18" >20%</text>
<polygon points="1097.3,167.6 1089.1,171.8 1097.3,182.0" fill="#fff" stroke="#c4c4c4" stroke-width="0.9"/>
<rect x="1097.3" y="166.4" width="48.4" height="38.9" fill="#fff" stroke="#c4c4c4" stroke-width="0.9"/>
<path d="M1097.3 167.6 L1097.3 182.0" stroke="#fff" stroke-width="1.4"/>
<text x="1121.5" y="178.2" text-anchor="middle" font-size="9.0" fill="#464646" stroke="#464646" stroke-width="0.18" >Product 5</text>
<text x="1121.5" y="190.3" text-anchor="middle" font-size="9.0" fill="#464646" stroke="#464646" stroke-width="0.18" >1,450,377</text>
<text x="1121.5" y="202.0" text-anchor="middle" font-size="9.0" fill="#464646" stroke="#464646" stroke-width="0.18" >33%</text>
<rect x="1321.5" y="66.5" width="216" height="290" fill="#fff" stroke="#d9d9d9"/>
<path d="M1321 356 H1538" stroke="#dcdcdc" stroke-width="2"/>
<text x="1429.0" y="86.0" text-anchor="middle" font-size="11.6" fill="#464646" stroke="#464646" stroke-width="0.18" >UPH per product</text>
<path d="M1374.5 102.5 V343" stroke="#d9d9d9" stroke-width="1"/>
<rect x="1375" y="118.0" width="135.0" height="16.7" fill="#134f6c"/>
<text x="1517.0" y="129.9" text-anchor="start" font-size="9.0" fill="#464646" stroke="#464646" stroke-width="0.18" >360</text>
<text x="1366.0" y="129.9" text-anchor="end" font-size="9.0" fill="#464646" stroke="#464646" stroke-width="0.18" >Product 5</text>
<rect x="1375" y="166.7" width="75.0" height="16.7" fill="#134f6c"/>
<text x="1457.0" y="177.7" text-anchor="start" font-size="9.0" fill="#464646" stroke="#464646" stroke-width="0.18" >200</text>
<text x="1366.0" y="177.7" text-anchor="end" font-size="9.0" fill="#464646" stroke="#464646" stroke-width="0.18" >Product 4</text>
<rect x="1375" y="215.0" width="53.6" height="16.7" fill="#134f6c"/>
<text x="1435.6" y="226.0" text-anchor="start" font-size="9.0" fill="#464646" stroke="#464646" stroke-width="0.18" >144</text>
<text x="1366.0" y="226.0" text-anchor="end" font-size="9.0" fill="#464646" stroke="#464646" stroke-width="0.18" >Product 3</text>
<rect x="1375" y="262.8" width="72.8" height="16.7" fill="#134f6c"/>
<text x="1454.8" y="273.8" text-anchor="start" font-size="9.0" fill="#464646" stroke="#464646" stroke-width="0.18" >195</text>
<text x="1366.0" y="273.8" text-anchor="end" font-size="9.0" fill="#464646" stroke="#464646" stroke-width="0.18" >Product 2</text>
<rect x="1375" y="311.0" width="51.8" height="16.7" fill="#134f6c"/>
<text x="1433.8" y="322.0" text-anchor="start" font-size="9.0" fill="#464646" stroke="#464646" stroke-width="0.18" >138</text>
<text x="1366.0" y="322.0" text-anchor="end" font-size="9.0" fill="#464646" stroke="#464646" stroke-width="0.18" >Product 1</text>
<rect x="1537.5" y="67.5" width="350" height="148.5" fill="#fff" stroke="#d9d9d9" stroke-width="1"/>
<text x="1712.0" y="89.3" text-anchor="middle" font-size="13.6" fill="#464646" stroke="#464646" stroke-width="0.18" >Workers required per day</text>
<path d="M1548 190.5 H1875" stroke="#d9d9d9" stroke-width="1"/>
<rect x="1558.0" y="133.9" width="9" height="56.6" fill="#a0a9af"/>
<text x="1562.5" y="127.3" text-anchor="middle" font-size="9.0" fill="#464646" stroke="#464646" stroke-width="0.18" >33</text>
<text x="1562.5" y="205.3" text-anchor="middle" font-size="9.0" fill="#464646" stroke="#464646" stroke-width="0.18" >Jan</text>
<rect x="1585.2" y="134.9" width="9" height="55.6" fill="#a0a9af"/>
<text x="1589.7" y="127.3" text-anchor="middle" font-size="9.0" fill="#464646" stroke="#464646" stroke-width="0.18" >33</text>
<text x="1589.7" y="205.3" text-anchor="middle" font-size="9.0" fill="#464646" stroke="#464646" stroke-width="0.18" >Feb</text>
<rect x="1612.5" y="133.9" width="9" height="56.6" fill="#a0a9af"/>
<text x="1617.0" y="126.1" text-anchor="middle" font-size="9.0" fill="#464646" stroke="#464646" stroke-width="0.18" >34</text>
<text x="1617.0" y="205.3" text-anchor="middle" font-size="9.0" fill="#464646" stroke="#464646" stroke-width="0.18" >Mar</text>
<rect x="1639.7" y="136.7" width="9" height="53.8" fill="#a0a9af"/>
<text x="1644.2" y="129.2" text-anchor="middle" font-size="9.0" fill="#464646" stroke="#464646" stroke-width="0.18" >32</text>
<text x="1644.2" y="205.3" text-anchor="middle" font-size="9.0" fill="#464646" stroke="#464646" stroke-width="0.18" >Apr</text>
<rect x="1666.9" y="132.8" width="9" height="57.7" fill="#a0a9af"/>
<text x="1671.4" y="126.1" text-anchor="middle" font-size="9.0" fill="#464646" stroke="#464646" stroke-width="0.18" >34</text>
<text x="1671.4" y="205.3" text-anchor="middle" font-size="9.0" fill="#464646" stroke="#464646" stroke-width="0.18" >May</text>
<rect x="1694.1" y="138.8" width="9" height="51.7" fill="#a0a9af"/>
<text x="1698.6" y="132.2" text-anchor="middle" font-size="9.0" fill="#464646" stroke="#464646" stroke-width="0.18" >30</text>
<text x="1698.6" y="205.3" text-anchor="middle" font-size="9.0" fill="#464646" stroke="#464646" stroke-width="0.18" >Jun</text>
<rect x="1721.4" y="136.7" width="9" height="53.8" fill="#a0a9af"/>
<text x="1725.9" y="130.4" text-anchor="middle" font-size="9.0" fill="#464646" stroke="#464646" stroke-width="0.18" >32</text>
<text x="1725.9" y="205.3" text-anchor="middle" font-size="9.0" fill="#464646" stroke="#464646" stroke-width="0.18" >Jul</text>
<rect x="1748.6" y="125.8" width="9" height="64.7" fill="#a0a9af"/>
<text x="1753.1" y="118.3" text-anchor="middle" font-size="9.0" fill="#464646" stroke="#464646" stroke-width="0.18" >38</text>
<text x="1753.1" y="205.3" text-anchor="middle" font-size="9.0" fill="#464646" stroke="#464646" stroke-width="0.18" >Aug</text>
<rect x="1775.8" y="132.8" width="9" height="57.7" fill="#a0a9af"/>
<text x="1780.3" y="125.2" text-anchor="middle" font-size="9.0" fill="#464646" stroke="#464646" stroke-width="0.18" >34</text>
<text x="1780.3" y="205.3" text-anchor="middle" font-size="9.0" fill="#464646" stroke="#464646" stroke-width="0.18" >Sep</text>
<rect x="1803.0" y="132.8" width="9" height="57.7" fill="#a0a9af"/>
<text x="1807.5" y="125.2" text-anchor="middle" font-size="9.0" fill="#464646" stroke="#464646" stroke-width="0.18" >34</text>
<text x="1807.5" y="205.3" text-anchor="middle" font-size="9.0" fill="#464646" stroke="#464646" stroke-width="0.18" >Oct</text>
<rect x="1830.3" y="146.8" width="9" height="43.7" fill="#a0a9af"/>
<text x="1834.8" y="140.4" text-anchor="middle" font-size="9.0" fill="#464646" stroke="#464646" stroke-width="0.18" >26</text>
<text x="1834.8" y="205.3" text-anchor="middle" font-size="9.0" fill="#464646" stroke="#464646" stroke-width="0.18" >Nov</text>
<rect x="1857.5" y="140.9" width="9" height="49.6" fill="#a0a9af"/>
<text x="1862.0" y="134.3" text-anchor="middle" font-size="9.0" fill="#464646" stroke="#464646" stroke-width="0.18" >29</text>
<text x="1862.0" y="205.3" text-anchor="middle" font-size="9.0" fill="#464646" stroke="#464646" stroke-width="0.18" >Dec</text>
<rect x="1538" y="216" width="349" height="140" fill="#fff" stroke="#dadada" stroke-width="2"/>
<text x="1712.5" y="235.0" text-anchor="middle" font-size="11.0" fill="#464646" stroke="#464646" stroke-width="0.18" >Monthly Overtime (days)</text>
<path d="M1550.5 290.5 H1875" stroke="#d9d9d9" stroke-width="1"/>
<rect x="1559.0" y="286.6" width="9" height="3.9" fill="#c00000"/>
<text x="1563.5" y="279.2" text-anchor="middle" font-size="9.0" fill="#464646" stroke="#464646" stroke-width="0.18" >1</text>
<text x="1563.5" y="345.0" text-anchor="middle" font-size="9.0" fill="#464646" stroke="#464646" stroke-width="0.18" >Jan</text>
<text x="1590.6" y="282.8" text-anchor="middle" font-size="9.0" fill="#464646" stroke="#464646" stroke-width="0.18" >0</text>
<text x="1590.6" y="345.0" text-anchor="middle" font-size="9.0" fill="#464646" stroke="#464646" stroke-width="0.18" >Feb</text>
<rect x="1613.2" y="290.5" width="9" height="20.2" fill="#2ab58b"/>
<text x="1617.7" y="324.1" text-anchor="middle" font-size="9.0" fill="#464646" stroke="#464646" stroke-width="0.18" >-5</text>
<text x="1617.7" y="345.0" text-anchor="middle" font-size="9.0" fill="#464646" stroke="#464646" stroke-width="0.18" >Mar</text>
<rect x="1640.2" y="283.1" width="9" height="7.4" fill="#c00000"/>
<text x="1644.7" y="275.7" text-anchor="middle" font-size="9.0" fill="#464646" stroke="#464646" stroke-width="0.18" >2</text>
<text x="1644.7" y="345.0" text-anchor="middle" font-size="9.0" fill="#464646" stroke="#464646" stroke-width="0.18" >Apr</text>
<text x="1671.8" y="282.8" text-anchor="middle" font-size="9.0" fill="#464646" stroke="#464646" stroke-width="0.18" >0</text>
<text x="1671.8" y="345.0" text-anchor="middle" font-size="9.0" fill="#464646" stroke="#464646" stroke-width="0.18" >May</text>
<rect x="1694.4" y="290.5" width="9" height="12.2" fill="#2ab58b"/>
<text x="1698.9" y="316.0" text-anchor="middle" font-size="9.0" fill="#464646" stroke="#464646" stroke-width="0.18" >-3</text>
<text x="1698.9" y="345.0" text-anchor="middle" font-size="9.0" fill="#464646" stroke="#464646" stroke-width="0.18" >Jun</text>
<rect x="1721.5" y="270.9" width="9" height="19.6" fill="#c00000"/>
<text x="1726.0" y="263.7" text-anchor="middle" font-size="9.0" fill="#464646" stroke="#464646" stroke-width="0.18" >5</text>
<text x="1726.0" y="345.0" text-anchor="middle" font-size="9.0" fill="#464646" stroke="#464646" stroke-width="0.18" >Jul</text>
<rect x="1748.5" y="290.5" width="9" height="8.3" fill="#2ab58b"/>
<text x="1753.0" y="312.9" text-anchor="middle" font-size="9.0" fill="#464646" stroke="#464646" stroke-width="0.18" >-2</text>
<text x="1753.0" y="345.0" text-anchor="middle" font-size="9.0" fill="#464646" stroke="#464646" stroke-width="0.18" >Aug</text>
<rect x="1775.6" y="290.5" width="9" height="12.2" fill="#2ab58b"/>
<text x="1780.1" y="316.0" text-anchor="middle" font-size="9.0" fill="#464646" stroke="#464646" stroke-width="0.18" >-3</text>
<text x="1780.1" y="345.0" text-anchor="middle" font-size="9.0" fill="#464646" stroke="#464646" stroke-width="0.18" >Sep</text>
<rect x="1802.7" y="290.5" width="9" height="27.2" fill="#2ab58b"/>
<text x="1807.2" y="331.8" text-anchor="middle" font-size="9.0" fill="#464646" stroke="#464646" stroke-width="0.18" >-7</text>
<text x="1807.2" y="345.0" text-anchor="middle" font-size="9.0" fill="#464646" stroke="#464646" stroke-width="0.18" >Oct</text>
<rect x="1829.7" y="290.5" width="9" height="31.4" fill="#2ab58b"/>
<text x="1834.2" y="335.9" text-anchor="middle" font-size="9.0" fill="#464646" stroke="#464646" stroke-width="0.18" >-8</text>
<text x="1834.2" y="345.0" text-anchor="middle" font-size="9.0" fill="#464646" stroke="#464646" stroke-width="0.18" >Nov</text>
<rect x="1856.8" y="290.5" width="9" height="20.2" fill="#2ab58b"/>
<text x="1861.3" y="324.1" text-anchor="middle" font-size="9.0" fill="#464646" stroke="#464646" stroke-width="0.18" >-5</text>
<text x="1861.3" y="345.0" text-anchor="middle" font-size="9.0" fill="#464646" stroke="#464646" stroke-width="0.18" >Dec</text></svg>
<div class="th" style="left:184px;width:150px;background:#2ab58b">Product Name<span class="fb"></span></div>
<div class="th" style="left:334px;width:90px;background:#2ab58b">Month<span class="fb"></span></div>
<div class="th" style="left:424px;width:90px;background:#2ab58b">Plan / Demand<span class="fb"></span></div>
<div class="th" style="left:514px;width:90px;background:#2ab58b">Actual working<br>days<span class="fb"></span></div>
<div class="th" style="left:604px;width:90px;background:#2ab58b">Working hours<span class="fb"></span></div>
<div class="th" style="left:694px;width:82px;background:#a0a8b0">Shop Calendar<br>(days)<span class="fb"></span></div>
<div class="th" style="left:776px;width:70px;background:#a0a8b0">UPH<span class="fb"></span></div>
<div class="th" style="left:846px;width:82px;background:#a0a8b0">UPD<span class="fb"></span></div>
<div class="th" style="left:928px;width:90px;background:#a0a8b0">Required days<span class="fb"></span></div>
<div class="th" style="left:1018px;width:90px;background:#a0a8b0">Overtime<br>required (days)<span class="fb"></span></div>
<div class="th" style="left:1108px;width:72px;background:#a0a8b0">Operation<br>rate%<span class="fb"></span></div>
<div class="th" style="left:1180px;width:80px;background:#a0a8b0">Monthly<br>production<span class="fb"></span></div>
<div class="th" style="left:1260px;width:78px;background:#a0a8b0">Monthly<br>capacity<span class="fb"></span></div>
<div class="th" style="left:1338px;width:75px;background:#a0a8b0">Projected<br>balance<span class="fb"></span></div>
<div class="th" style="left:1413px;width:81px;background:#a0a8b0">Accumulated<br>Capacity<span class="fb"></span></div>
<div class="th" style="left:1494px;width:81px;background:#a0a8b0">Workers<br>required per<br>day<span class="fb"></span></div>
<div class="th" style="left:1575px;width:78px;background:#a0a8b0">Workers<br>required<span class="fb"></span></div>
<div class="th" style="left:1653px;width:78px;background:#a0a8b0">Available<br>space (m2)<span class="fb"></span></div>
<div class="th" style="left:1731px;width:78px;background:#a0a8b0">Space needed<br>(m2)<span class="fb"></span></div>
<div class="th" style="left:1809px;width:78px;background:#a0a8b0">Space gap<br>(m2)<span class="fb"></span></div>
<div class="tb">
<div class="tr" style="top:0px"><div class="td c" style="left:0px;width:150px">Product 1</div><div class="td c" style="left:150px;width:90px">Jan</div><div class="td r" style="left:240px;width:90px;padding-right:4.5px">56,141</div><div class="td c" style="left:330px;width:90px">23</div><div class="td c" style="left:420px;width:90px">22</div><div class="td c g" style="left:510px;width:82px">22</div><div class="td c g" style="left:592px;width:70px">138</div><div class="td r g" style="left:662px;width:82px;padding-right:4.5px">2,467</div><div class="td c g" style="left:744px;width:90px">23</div><div class="td c g" style="left:834px;width:90px">1</div><div class="td c g opr" style="left:924px;width:72px">103%</div><div class="td r g" style="left:996px;width:80px;padding-right:4.5px">56,750</div><div class="td r g" style="left:1076px;width:78px;padding-right:4.5px">609</div><div class="td r g" style="left:1154px;width:75px;padding-right:4.5px">6,000</div><div class="td r g" style="left:1229px;width:81px;padding-right:4.5px">6,609</div><div class="td c g" style="left:1310px;width:81px">6</div><div class="td c g" style="left:1391px;width:78px">138</div><div class="td c g" style="left:1469px;width:78px">150</div><div class="td c g" style="left:1547px;width:78px">159</div><div class="td c g neg" style="left:1625px;width:78px">-9</div></div>
<div class="tr" style="top:14px"><div class="td c" style="left:0px;width:150px">Product 1</div><div class="td c" style="left:150px;width:90px">Feb</div><div class="td r" style="left:240px;width:90px;padding-right:4.5px">65,000</div><div class="td c" style="left:330px;width:90px">22</div><div class="td c" style="left:420px;width:90px">22</div><div class="td c g" style="left:510px;width:82px">22</div><div class="td c g" style="left:592px;width:70px">138</div><div class="td r g" style="left:662px;width:82px;padding-right:4.5px">2,467</div><div class="td c g" style="left:744px;width:90px">26</div><div class="td c g" style="left:834px;width:90px">0</div><div class="td c g opr" style="left:924px;width:72px">120%</div><div class="td r g" style="left:996px;width:80px;padding-right:4.5px">54,282</div><div class="td r g neg" style="left:1076px;width:78px;padding-right:3px">(10,718)</div><div class="td r g" style="left:1154px;width:75px;padding-right:4.5px">6,000</div><div class="td r g neg" style="left:1229px;width:81px;padding-right:3px">(4,109)</div><div class="td c g" style="left:1310px;width:81px">7</div><div class="td c g" style="left:1391px;width:78px">132</div><div class="td c g" style="left:1469px;width:78px">150</div><div class="td c g" style="left:1547px;width:78px">0</div><div class="td c g" style="left:1625px;width:78px">150</div></div>
<div class="tr" style="top:28px"><div class="td c" style="left:0px;width:150px">Product 1</div><div class="td c" style="left:150px;width:90px">Mar</div><div class="td r" style="left:240px;width:90px;padding-right:4.5px">65,000</div><div class="td c" style="left:330px;width:90px">21</div><div class="td c" style="left:420px;width:90px">22</div><div class="td c g" style="left:510px;width:82px">23</div><div class="td c g" style="left:592px;width:70px">138</div><div class="td r g" style="left:662px;width:82px;padding-right:4.5px">2,467</div><div class="td c g" style="left:744px;width:90px">26</div><div class="td c g" style="left:834px;width:90px">-2</div><div class="td c g opr" style="left:924px;width:72px">115%</div><div class="td r g" style="left:996px;width:80px;padding-right:4.5px">51,815</div><div class="td r g neg" style="left:1076px;width:78px;padding-right:3px">(13,185)</div><div class="td r g" style="left:1154px;width:75px;padding-right:4.5px">6,000</div><div class="td r g neg" style="left:1229px;width:81px;padding-right:3px">(17,294)</div><div class="td c g" style="left:1310px;width:81px">7</div><div class="td c g" style="left:1391px;width:78px">126</div><div class="td c g" style="left:1469px;width:78px">150</div><div class="td c g" style="left:1547px;width:78px">0</div><div class="td c g" style="left:1625px;width:78px">150</div></div>
<div class="tr" style="top:42px"><div class="td c" style="left:0px;width:150px">Product 1</div><div class="td c" style="left:150px;width:90px">Apr</div><div class="td r" style="left:240px;width:90px;padding-right:4.5px">45,800</div><div class="td c" style="left:330px;width:90px">23</div><div class="td c" style="left:420px;width:90px">22</div><div class="td c g" style="left:510px;width:82px">22</div><div class="td c g" style="left:592px;width:70px">138</div><div class="td r g" style="left:662px;width:82px;padding-right:4.5px">2,467</div><div class="td c g" style="left:744px;width:90px">19</div><div class="td c g" style="left:834px;width:90px">1</div><div class="td c g opg" style="left:924px;width:72px">84%</div><div class="td r g" style="left:996px;width:80px;padding-right:4.5px">56,750</div><div class="td r g" style="left:1076px;width:78px;padding-right:4.5px">10,950</div><div class="td r g" style="left:1154px;width:75px;padding-right:4.5px">6,000</div><div class="td r g neg" style="left:1229px;width:81px;padding-right:3px">(6,344)</div><div class="td c g" style="left:1310px;width:81px">5</div><div class="td c g" style="left:1391px;width:78px">116</div><div class="td c g" style="left:1469px;width:78px">150</div><div class="td c g" style="left:1547px;width:78px">0</div><div class="td c g" style="left:1625px;width:78px">150</div></div>
<div class="tr" style="top:56px"><div class="td c" style="left:0px;width:150px">Product 1</div><div class="td c" style="left:150px;width:90px">May</div><div class="td r" style="left:240px;width:90px;padding-right:4.5px">43,200</div><div class="td c" style="left:330px;width:90px">22</div><div class="td c" style="left:420px;width:90px">22</div><div class="td c g" style="left:510px;width:82px">22</div><div class="td c g" style="left:592px;width:70px">138</div><div class="td r g" style="left:662px;width:82px;padding-right:4.5px">2,467</div><div class="td c g" style="left:744px;width:90px">18</div><div class="td c g" style="left:834px;width:90px">0</div><div class="td c g opg" style="left:924px;width:72px">80%</div><div class="td r g" style="left:996px;width:80px;padding-right:4.5px">54,282</div><div class="td r g" style="left:1076px;width:78px;padding-right:4.5px">11,082</div><div class="td r g" style="left:1154px;width:75px;padding-right:4.5px">6,000</div><div class="td r g" style="left:1229px;width:81px;padding-right:4.5px">4,739</div><div class="td c g" style="left:1310px;width:81px">5</div><div class="td c g" style="left:1391px;width:78px">105</div><div class="td c g" style="left:1469px;width:78px">150</div><div class="td c g" style="left:1547px;width:78px">114</div><div class="td c g" style="left:1625px;width:78px">36</div></div>
<div class="tr" style="top:70px"><div class="td c" style="left:0px;width:150px">Product 1</div><div class="td c" style="left:150px;width:90px">Jun</div><div class="td r" style="left:240px;width:90px;padding-right:4.5px">48,000</div><div class="td c" style="left:330px;width:90px">22</div><div class="td c" style="left:420px;width:90px">22</div><div class="td c g" style="left:510px;width:82px">23</div><div class="td c g" style="left:592px;width:70px">138</div><div class="td r g" style="left:662px;width:82px;padding-right:4.5px">2,467</div><div class="td c g" style="left:744px;width:90px">19</div><div class="td c g" style="left:834px;width:90px">-1</div><div class="td c g opg" style="left:924px;width:72px">85%</div><div class="td r g" style="left:996px;width:80px;padding-right:4.5px">54,282</div><div class="td r g" style="left:1076px;width:78px;padding-right:4.5px">6,282</div><div class="td r g" style="left:1154px;width:75px;padding-right:4.5px">6,000</div><div class="td r g" style="left:1229px;width:81px;padding-right:4.5px">11,021</div><div class="td c g" style="left:1310px;width:81px">5</div><div class="td c g" style="left:1391px;width:78px">112</div><div class="td c g" style="left:1469px;width:78px">150</div><div class="td c g" style="left:1547px;width:78px">265</div><div class="td c g neg" style="left:1625px;width:78px">-115</div></div>
<div class="tr" style="top:84px"><div class="td c" style="left:0px;width:150px">Product 1</div><div class="td c" style="left:150px;width:90px">Jul</div><div class="td r" style="left:240px;width:90px;padding-right:4.5px">59,538</div><div class="td c" style="left:330px;width:90px">23</div><div class="td c" style="left:420px;width:90px">22</div><div class="td c g" style="left:510px;width:82px">21</div><div class="td c g" style="left:592px;width:70px">138</div><div class="td r g" style="left:662px;width:82px;padding-right:4.5px">2,467</div><div class="td c g" style="left:744px;width:90px">24</div><div class="td c g" style="left:834px;width:90px">2</div><div class="td c g opr" style="left:924px;width:72px">115%</div><div class="td r g" style="left:996px;width:80px;padding-right:4.5px">56,750</div><div class="td r g neg" style="left:1076px;width:78px;padding-right:3px">(2,788)</div><div class="td r g" style="left:1154px;width:75px;padding-right:4.5px">6,000</div><div class="td r g" style="left:1229px;width:81px;padding-right:4.5px">8,233</div><div class="td c g" style="left:1310px;width:81px">7</div><div class="td c g" style="left:1391px;width:78px">138</div><div class="td c g" style="left:1469px;width:78px">150</div><div class="td c g" style="left:1547px;width:78px">198</div><div class="td c g neg" style="left:1625px;width:78px">-48</div></div>
<div class="tr" style="top:98px"><div class="td c" style="left:0px;width:150px">Product 1</div><div class="td c" style="left:150px;width:90px">Aug</div><div class="td r" style="left:240px;width:90px;padding-right:4.5px">50,744</div><div class="td c" style="left:330px;width:90px">20</div><div class="td c" style="left:420px;width:90px">22</div><div class="td c g" style="left:510px;width:82px">22</div><div class="td c g" style="left:592px;width:70px">138</div><div class="td r g" style="left:662px;width:82px;padding-right:4.5px">2,467</div><div class="td c g" style="left:744px;width:90px">21</div><div class="td c g" style="left:834px;width:90px">-2</div><div class="td c g opy" style="left:924px;width:72px">93%</div><div class="td r g" style="left:996px;width:80px;padding-right:4.5px">49,348</div><div class="td r g neg" style="left:1076px;width:78px;padding-right:3px">(1,396)</div><div class="td r g" style="left:1154px;width:75px;padding-right:4.5px">6,000</div><div class="td r g" style="left:1229px;width:81px;padding-right:4.5px">6,837</div><div class="td c g" style="left:1310px;width:81px">6</div><div class="td c g" style="left:1391px;width:78px">112</div><div class="td c g" style="left:1469px;width:78px">150</div><div class="td c g" style="left:1547px;width:78px">164</div><div class="td c g neg" style="left:1625px;width:78px">-14</div></div>
<div class="tr" style="top:112px"><div class="td c" style="left:0px;width:150px">Product 1</div><div class="td c" style="left:150px;width:90px">Sep</div><div class="td r" style="left:240px;width:90px;padding-right:4.5px">45,000</div><div class="td c" style="left:330px;width:90px">22</div><div class="td c" style="left:420px;width:90px">22</div><div class="td c g" style="left:510px;width:82px">23</div><div class="td c g" style="left:592px;width:70px">138</div><div class="td r g" style="left:662px;width:82px;padding-right:4.5px">2,467</div><div class="td c g" style="left:744px;width:90px">18</div><div class="td c g" style="left:834px;width:90px">-1</div><div class="td c g opg" style="left:924px;width:72px">79%</div><div class="td r g" style="left:996px;width:80px;padding-right:4.5px">54,282</div><div class="td r g" style="left:1076px;width:78px;padding-right:4.5px">9,282</div><div class="td r g" style="left:1154px;width:75px;padding-right:4.5px">6,000</div><div class="td r g" style="left:1229px;width:81px;padding-right:4.5px">16,119</div><div class="td c g" style="left:1310px;width:81px">5</div><div class="td c g" style="left:1391px;width:78px">105</div><div class="td c g" style="left:1469px;width:78px">150</div><div class="td c g" style="left:1547px;width:78px">387</div><div class="td c g neg" style="left:1625px;width:78px">-237</div></div>
<div class="tr" style="top:126px"><div class="td c" style="left:0px;width:150px">Product 1</div><div class="td c" style="left:150px;width:90px">Oct</div><div class="td r" style="left:240px;width:90px;padding-right:4.5px">45,000</div><div class="td c" style="left:330px;width:90px">17</div><div class="td c" style="left:420px;width:90px">22</div><div class="td c g" style="left:510px;width:82px">22</div><div class="td c g" style="left:592px;width:70px">138</div><div class="td r g" style="left:662px;width:82px;padding-right:4.5px">2,467</div><div class="td c g" style="left:744px;width:90px">18</div><div class="td c g" style="left:834px;width:90px">-5</div><div class="td c g opg" style="left:924px;width:72px">83%</div><div class="td r g" style="left:996px;width:80px;padding-right:4.5px">41,946</div><div class="td r g neg" style="left:1076px;width:78px;padding-right:3px">(3,054)</div><div class="td r g" style="left:1154px;width:75px;padding-right:4.5px">6,000</div><div class="td r g" style="left:1229px;width:81px;padding-right:4.5px">13,065</div><div class="td c g" style="left:1310px;width:81px">5</div><div class="td c g" style="left:1391px;width:78px">85</div><div class="td c g" style="left:1469px;width:78px">150</div><div class="td c g" style="left:1547px;width:78px">314</div><div class="td c g neg" style="left:1625px;width:78px">-164</div></div>
<div class="tr" style="top:140px"><div class="td c" style="left:0px;width:150px">Product 1</div><div class="td c" style="left:150px;width:90px">Nov</div><div class="td r" style="left:240px;width:90px;padding-right:4.5px">45,000</div><div class="td c" style="left:330px;width:90px">18</div><div class="td c" style="left:420px;width:90px">22</div><div class="td c g" style="left:510px;width:82px">24</div><div class="td c g" style="left:592px;width:70px">138</div><div class="td r g" style="left:662px;width:82px;padding-right:4.5px">2,467</div><div class="td c g" style="left:744px;width:90px">18</div><div class="td c g" style="left:834px;width:90px">-6</div><div class="td c g opg" style="left:924px;width:72px">76%</div><div class="td r g" style="left:996px;width:80px;padding-right:4.5px">44,413</div><div class="td r g neg" style="left:1076px;width:78px;padding-right:3px">(587)</div><div class="td r g" style="left:1154px;width:75px;padding-right:4.5px">6,000</div><div class="td r g" style="left:1229px;width:81px;padding-right:4.5px">12,478</div><div class="td c g" style="left:1310px;width:81px">5</div><div class="td c g" style="left:1391px;width:78px">82</div><div class="td c g" style="left:1469px;width:78px">150</div><div class="td c g" style="left:1547px;width:78px">299</div><div class="td c g neg" style="left:1625px;width:78px">-149</div></div>
<div class="tr" style="top:154px"><div class="td c" style="left:0px;width:150px">Product 1</div><div class="td c" style="left:150px;width:90px">Dec</div><div class="td r" style="left:240px;width:90px;padding-right:4.5px">45,000</div><div class="td c" style="left:330px;width:90px">15</div><div class="td c" style="left:420px;width:90px">22</div><div class="td c g" style="left:510px;width:82px">21</div><div class="td c g" style="left:592px;width:70px">138</div><div class="td r g" style="left:662px;width:82px;padding-right:4.5px">2,467</div><div class="td c g" style="left:744px;width:90px">18</div><div class="td c g" style="left:834px;width:90px">-6</div><div class="td c g opy" style="left:924px;width:72px">87%</div><div class="td r g" style="left:996px;width:80px;padding-right:4.5px">37,011</div><div class="td r g neg" style="left:1076px;width:78px;padding-right:3px">(7,989)</div><div class="td r g" style="left:1154px;width:75px;padding-right:4.5px">6,000</div><div class="td r g" style="left:1229px;width:81px;padding-right:4.5px">4,488</div><div class="td c g" style="left:1310px;width:81px">5</div><div class="td c g" style="left:1391px;width:78px">78</div><div class="td c g" style="left:1469px;width:78px">150</div><div class="td c g" style="left:1547px;width:78px">108</div><div class="td c g" style="left:1625px;width:78px">42</div></div>
<div class="tr" style="top:168px"><div class="td c" style="left:0px;width:150px">Product 2</div><div class="td c" style="left:150px;width:90px">Jan</div><div class="td r" style="left:240px;width:90px;padding-right:4.5px">59,229</div><div class="td c" style="left:330px;width:90px">22</div><div class="td c" style="left:420px;width:90px">22</div><div class="td c g" style="left:510px;width:82px">22</div><div class="td c g" style="left:592px;width:70px">195</div><div class="td r g" style="left:662px;width:82px;padding-right:4.5px">3,211</div><div class="td c g" style="left:744px;width:90px">18</div><div class="td c g" style="left:834px;width:90px">0</div><div class="td c g opg" style="left:924px;width:72px">84%</div><div class="td r g" style="left:996px;width:80px;padding-right:4.5px">70,638</div><div class="td r g" style="left:1076px;width:78px;padding-right:4.5px">11,409</div><div class="td r g" style="left:1154px;width:75px;padding-right:4.5px">2,000</div><div class="td r g" style="left:1229px;width:81px;padding-right:4.5px">13,409</div><div class="td c g" style="left:1310px;width:81px">5</div><div class="td c g" style="left:1391px;width:78px">111</div><div class="td c g" style="left:1469px;width:78px">300</div><div class="td c g" style="left:1547px;width:78px">179</div><div class="td c g" style="left:1625px;width:78px">121</div></div>
<div class="tr" style="top:182px"><div class="td c" style="left:0px;width:150px">Product 2</div><div class="td c" style="left:150px;width:90px">Feb</div><div class="td r" style="left:240px;width:90px;padding-right:4.5px">80,000</div><div class="td c" style="left:330px;width:90px">22</div><div class="td c" style="left:420px;width:90px">22</div><div class="td c g" style="left:510px;width:82px">22</div><div class="td c g" style="left:592px;width:70px">195</div><div class="td r g" style="left:662px;width:82px;padding-right:4.5px">3,211</div><div class="td c g" style="left:744px;width:90px">25</div><div class="td c g" style="left:834px;width:90px">0</div><div class="td c g opr" style="left:924px;width:72px">113%</div><div class="td r g" style="left:996px;width:80px;padding-right:4.5px">70,638</div><div class="td r g neg" style="left:1076px;width:78px;padding-right:3px">(9,362)</div><div class="td r g" style="left:1154px;width:75px;padding-right:4.5px">2,000</div><div class="td r g" style="left:1229px;width:81px;padding-right:4.5px">4,047</div><div class="td c g" style="left:1310px;width:81px">7</div><div class="td c g" style="left:1391px;width:78px">132</div><div class="td c g" style="left:1469px;width:78px">300</div><div class="td c g" style="left:1547px;width:78px">54</div><div class="td c g" style="left:1625px;width:78px">246</div></div>
<div class="tr" style="top:196px"><div class="td c" style="left:0px;width:150px">Product 2</div><div class="td c" style="left:150px;width:90px">Mar</div><div class="td r" style="left:240px;width:90px;padding-right:4.5px">66,633</div><div class="td c" style="left:330px;width:90px">23</div><div class="td c" style="left:420px;width:90px">22</div><div class="td c g" style="left:510px;width:82px">23</div><div class="td c g" style="left:592px;width:70px">195</div><div class="td r g" style="left:662px;width:82px;padding-right:4.5px">3,211</div><div class="td c g" style="left:744px;width:90px">21</div><div class="td c g" style="left:834px;width:90px">0</div><div class="td c g opy" style="left:924px;width:72px">90%</div><div class="td r g" style="left:996px;width:80px;padding-right:4.5px">73,849</div><div class="td r g" style="left:1076px;width:78px;padding-right:4.5px">7,216</div><div class="td r g" style="left:1154px;width:75px;padding-right:4.5px">2,000</div><div class="td r g" style="left:1229px;width:81px;padding-right:4.5px">11,262</div><div class="td c g" style="left:1310px;width:81px">5</div><div class="td c g" style="left:1391px;width:78px">125</div><div class="td c g" style="left:1469px;width:78px">300</div><div class="td c g" style="left:1547px;width:78px">150</div><div class="td c g" style="left:1625px;width:78px">150</div></div>
<div class="tr" style="top:210px"><div class="td c" style="left:0px;width:150px">Product 2</div><div class="td c" style="left:150px;width:90px">Apr</div><div class="td r" style="left:240px;width:90px;padding-right:4.5px">83,537</div><div class="td c" style="left:330px;width:90px">22</div><div class="td c" style="left:420px;width:90px">22</div><div class="td c g" style="left:510px;width:82px">22</div><div class="td c g" style="left:592px;width:70px">195</div><div class="td r g" style="left:662px;width:82px;padding-right:4.5px">3,211</div><div class="td c g" style="left:744px;width:90px">26</div><div class="td c g" style="left:834px;width:90px">0</div><div class="td c g opr" style="left:924px;width:72px">118%</div><div class="td r g" style="left:996px;width:80px;padding-right:4.5px">70,638</div><div class="td r g neg" style="left:1076px;width:78px;padding-right:3px">(12,899)</div><div class="td r g" style="left:1154px;width:75px;padding-right:4.5px">2,000</div><div class="td r g neg" style="left:1229px;width:81px;padding-right:3px">(1,637)</div><div class="td c g" style="left:1310px;width:81px">7</div><div class="td c g" style="left:1391px;width:78px">132</div><div class="td c g" style="left:1469px;width:78px">300</div><div class="td c g" style="left:1547px;width:78px">0</div><div class="td c g" style="left:1625px;width:78px">300</div></div>
<div class="tr" style="top:224px"><div class="td c" style="left:0px;width:150px">Product 2</div><div class="td c" style="left:150px;width:90px">May</div><div class="td r" style="left:240px;width:90px;padding-right:4.5px">88,572</div><div class="td c" style="left:330px;width:90px">22</div><div class="td c" style="left:420px;width:90px">22</div><div class="td c g" style="left:510px;width:82px">22</div><div class="td c g" style="left:592px;width:70px">195</div><div class="td r g" style="left:662px;width:82px;padding-right:4.5px">3,211</div><div class="td c g" style="left:744px;width:90px">28</div><div class="td c g" style="left:834px;width:90px">0</div><div class="td c g opr" style="left:924px;width:72px">125%</div><div class="td r g" style="left:996px;width:80px;padding-right:4.5px">70,638</div><div class="td r g neg" style="left:1076px;width:78px;padding-right:3px">(17,934)</div><div class="td r g" style="left:1154px;width:75px;padding-right:4.5px">2,000</div><div class="td r g neg" style="left:1229px;width:81px;padding-right:3px">(19,571)</div><div class="td c g" style="left:1310px;width:81px">8</div><div class="td c g" style="left:1391px;width:78px">132</div><div class="td c g" style="left:1469px;width:78px">300</div><div class="td c g" style="left:1547px;width:78px">0</div><div class="td c g" style="left:1625px;width:78px">300</div></div>
<div class="tr" style="top:238px"><div class="td c" style="left:0px;width:150px">Product 2</div><div class="td c" style="left:150px;width:90px">Jun</div><div class="td r" style="left:240px;width:90px;padding-right:4.5px">66,306</div><div class="td c" style="left:330px;width:90px">23</div><div class="td c" style="left:420px;width:90px">22</div><div class="td c g" style="left:510px;width:82px">23</div><div class="td c g" style="left:592px;width:70px">195</div><div class="td r g" style="left:662px;width:82px;padding-right:4.5px">3,211</div><div class="td c g" style="left:744px;width:90px">21</div><div class="td c g" style="left:834px;width:90px">0</div><div class="td c g opy" style="left:924px;width:72px">90%</div><div class="td r g" style="left:996px;width:80px;padding-right:4.5px">73,849</div><div class="td r g" style="left:1076px;width:78px;padding-right:4.5px">7,543</div><div class="td r g" style="left:1154px;width:75px;padding-right:4.5px">2,000</div><div class="td r g neg" style="left:1229px;width:81px;padding-right:3px">(12,028)</div><div class="td c g" style="left:1310px;width:81px">5</div><div class="td c g" style="left:1391px;width:78px">124</div><div class="td c g" style="left:1469px;width:78px">300</div><div class="td c g" style="left:1547px;width:78px">0</div><div class="td c g" style="left:1625px;width:78px">300</div></div>
<div class="tr" style="top:252px"><div class="td c" style="left:0px;width:150px">Product 2</div><div class="td c" style="left:150px;width:90px">Jul</div><div class="td r" style="left:240px;width:90px;padding-right:4.5px">70,766</div><div class="td c" style="left:330px;width:90px">22</div><div class="td c" style="left:420px;width:90px">22</div><div class="td c g" style="left:510px;width:82px">21</div><div class="td c g" style="left:592px;width:70px">195</div><div class="td r g" style="left:662px;width:82px;padding-right:4.5px">3,211</div><div class="td c g" style="left:744px;width:90px">22</div><div class="td c g" style="left:834px;width:90px">1</div><div class="td c g opr" style="left:924px;width:72px">105%</div><div class="td r g" style="left:996px;width:80px;padding-right:4.5px">70,638</div><div class="td r g neg" style="left:1076px;width:78px;padding-right:3px">(128)</div><div class="td r g" style="left:1154px;width:75px;padding-right:4.5px">2,000</div><div class="td r g neg" style="left:1229px;width:81px;padding-right:3px">(12,157)</div><div class="td c g" style="left:1310px;width:81px">6</div><div class="td c g" style="left:1391px;width:78px">132</div><div class="td c g" style="left:1469px;width:78px">300</div><div class="td c g" style="left:1547px;width:78px">0</div><div class="td c g" style="left:1625px;width:78px">300</div></div>
<div class="tr" style="top:266px"><div class="td c" style="left:0px;width:150px">Product 2</div><div class="td c" style="left:150px;width:90px">Aug</div><div class="td r" style="left:240px;width:90px;padding-right:4.5px">66,493</div><div class="td c" style="left:330px;width:90px">22</div><div class="td c" style="left:420px;width:90px">22</div><div class="td c g" style="left:510px;width:82px">22</div><div class="td c g" style="left:592px;width:70px">195</div><div class="td r g" style="left:662px;width:82px;padding-right:4.5px">3,211</div><div class="td c g" style="left:744px;width:90px">21</div><div class="td c g" style="left:834px;width:90px">0</div><div class="td c g opy" style="left:924px;width:72px">94%</div><div class="td r g" style="left:996px;width:80px;padding-right:4.5px">70,638</div><div class="td r g" style="left:1076px;width:78px;padding-right:4.5px">4,145</div><div class="td r g" style="left:1154px;width:75px;padding-right:4.5px">2,000</div><div class="td r g neg" style="left:1229px;width:81px;padding-right:3px">(8,012)</div><div class="td c g" style="left:1310px;width:81px">6</div><div class="td c g" style="left:1391px;width:78px">124</div><div class="td c g" style="left:1469px;width:78px">300</div><div class="td c g" style="left:1547px;width:78px">0</div><div class="td c g" style="left:1625px;width:78px">300</div></div>
<div class="tr" style="top:280px"><div class="td c" style="left:0px;width:150px">Product 2</div><div class="td c" style="left:150px;width:90px">Sep</div><div class="td r" style="left:240px;width:90px;padding-right:4.5px">50,000</div><div class="td c" style="left:330px;width:90px">23</div><div class="td c" style="left:420px;width:90px">22</div><div class="td c g" style="left:510px;width:82px">23</div><div class="td c g" style="left:592px;width:70px">195</div><div class="td r g" style="left:662px;width:82px;padding-right:4.5px">3,211</div><div class="td c g" style="left:744px;width:90px">16</div><div class="td c g" style="left:834px;width:90px">0</div><div class="td c g opg" style="left:924px;width:72px">68%</div><div class="td r g" style="left:996px;width:80px;padding-right:4.5px">73,849</div><div class="td r g" style="left:1076px;width:78px;padding-right:4.5px">23,849</div><div class="td r g" style="left:1154px;width:75px;padding-right:4.5px">2,000</div><div class="td r g" style="left:1229px;width:81px;padding-right:4.5px">15,837</div><div class="td c g" style="left:1310px;width:81px">4</div><div class="td c g" style="left:1391px;width:78px">93</div><div class="td c g" style="left:1469px;width:78px">300</div><div class="td c g" style="left:1547px;width:78px">211</div><div class="td c g" style="left:1625px;width:78px">89</div></div>
<div class="tr" style="top:294px"><div class="td c" style="left:0px;width:150px">Product 2</div><div class="td c" style="left:150px;width:90px">Oct</div><div class="td r" style="left:240px;width:90px;padding-right:4.5px">84,787</div><div class="td c" style="left:330px;width:90px">22</div><div class="td c" style="left:420px;width:90px">22</div><div class="td c g" style="left:510px;width:82px">22</div><div class="td c g" style="left:592px;width:70px">195</div><div class="td r g" style="left:662px;width:82px;padding-right:4.5px">3,211</div><div class="td c g" style="left:744px;width:90px">26</div><div class="td c g" style="left:834px;width:90px">0</div><div class="td c g opr" style="left:924px;width:72px">120%</div><div class="td r g" style="left:996px;width:80px;padding-right:4.5px">70,638</div><div class="td r g neg" style="left:1076px;width:78px;padding-right:3px">(14,149)</div><div class="td r g" style="left:1154px;width:75px;padding-right:4.5px">2,000</div><div class="td r g" style="left:1229px;width:81px;padding-right:4.5px">1,688</div><div class="td c g" style="left:1310px;width:81px">7</div><div class="td c g" style="left:1391px;width:78px">132</div><div class="td c g" style="left:1469px;width:78px">300</div><div class="td c g" style="left:1547px;width:78px">23</div><div class="td c g" style="left:1625px;width:78px">277</div></div>
<div class="tr" style="top:308px"><div class="td c" style="left:0px;width:150px">Product 2</div><div class="td c" style="left:150px;width:90px">Nov</div><div class="td r" style="left:240px;width:90px;padding-right:4.5px">75,000</div><div class="td c" style="left:330px;width:90px">24</div><div class="td c" style="left:420px;width:90px">22</div><div class="td c g" style="left:510px;width:82px">24</div><div class="td c g" style="left:592px;width:70px">195</div><div class="td r g" style="left:662px;width:82px;padding-right:4.5px">3,211</div><div class="td c g" style="left:744px;width:90px">23</div><div class="td c g" style="left:834px;width:90px">0</div><div class="td c g opy" style="left:924px;width:72px">97%</div><div class="td r g" style="left:996px;width:80px;padding-right:4.5px">77,059</div><div class="td r g" style="left:1076px;width:78px;padding-right:4.5px">2,059</div><div class="td r g" style="left:1154px;width:75px;padding-right:4.5px">2,000</div><div class="td r g" style="left:1229px;width:81px;padding-right:4.5px">3,747</div><div class="td c g" style="left:1310px;width:81px">6</div><div class="td c g" style="left:1391px;width:78px">140</div><div class="td c g" style="left:1469px;width:78px">300</div><div class="td c g" style="left:1547px;width:78px">50</div><div class="td c g" style="left:1625px;width:78px">250</div></div>
<div class="tr" style="top:322px"><div class="td c" style="left:0px;width:150px">Product 2</div><div class="td c" style="left:150px;width:90px">Dec</div><div class="td r" style="left:240px;width:90px;padding-right:4.5px">80,000</div><div class="td c" style="left:330px;width:90px">22</div><div class="td c" style="left:420px;width:90px">22</div><div class="td c g" style="left:510px;width:82px">21</div><div class="td c g" style="left:592px;width:70px">195</div><div class="td r g" style="left:662px;width:82px;padding-right:4.5px">3,211</div><div class="td c g" style="left:744px;width:90px">25</div><div class="td c g" style="left:834px;width:90px">1</div><div class="td c g opr" style="left:924px;width:72px">119%</div><div class="td r g" style="left:996px;width:80px;padding-right:4.5px">70,638</div><div class="td r g neg" style="left:1076px;width:78px;padding-right:3px">(9,362)</div><div class="td r g" style="left:1154px;width:75px;padding-right:4.5px">2,000</div><div class="td r g neg" style="left:1229px;width:81px;padding-right:3px">(5,615)</div><div class="td c g" style="left:1310px;width:81px">7</div><div class="td c g" style="left:1391px;width:78px">132</div><div class="td c g" style="left:1469px;width:78px">300</div><div class="td c g" style="left:1547px;width:78px">0</div><div class="td c g" style="left:1625px;width:78px">300</div></div>
<div class="tr" style="top:336px"><div class="td c" style="left:0px;width:150px">Product 3</div><div class="td c" style="left:150px;width:90px">Jan</div><div class="td r" style="left:240px;width:90px;padding-right:4.5px">55,000</div><div class="td c" style="left:330px;width:90px">22</div><div class="td c" style="left:420px;width:90px">22</div><div class="td c g" style="left:510px;width:82px">22</div><div class="td c g" style="left:592px;width:70px">144</div><div class="td r g" style="left:662px;width:82px;padding-right:4.5px">2,218</div><div class="td c g" style="left:744px;width:90px">25</div><div class="td c g" style="left:834px;width:90px">0</div><div class="td c g opr" style="left:924px;width:72px">113%</div><div class="td r g" style="left:996px;width:80px;padding-right:4.5px">48,787</div><div class="td r g neg" style="left:1076px;width:78px;padding-right:3px">(6,213)</div><div class="td r g" style="left:1154px;width:75px;padding-right:4.5px">8,000</div><div class="td r g" style="left:1229px;width:81px;padding-right:4.5px">1,787</div><div class="td c g" style="left:1310px;width:81px">10</div><div class="td c g" style="left:1391px;width:78px">198</div><div class="td c g" style="left:1469px;width:78px">200</div><div class="td c g" style="left:1547px;width:78px">55</div><div class="td c g" style="left:1625px;width:78px">145</div></div>
<div class="tr" style="top:350px"><div class="td c" style="left:0px;width:150px">Product 3</div><div class="td c" style="left:150px;width:90px">Feb</div><div class="td r" style="left:240px;width:90px;padding-right:4.5px">35,000</div><div class="td c" style="left:330px;width:90px">22</div><div class="td c" style="left:420px;width:90px">22</div><div class="td c g" style="left:510px;width:82px">22</div><div class="td c g" style="left:592px;width:70px">144</div><div class="td r g" style="left:662px;width:82px;padding-right:4.5px">2,218</div><div class="td c g" style="left:744px;width:90px">16</div><div class="td c g" style="left:834px;width:90px">0</div><div class="td c g opg" style="left:924px;width:72px">72%</div><div class="td r g" style="left:996px;width:80px;padding-right:4.5px">48,787</div><div class="td r g" style="left:1076px;width:78px;padding-right:4.5px">13,787</div><div class="td r g" style="left:1154px;width:75px;padding-right:4.5px">8,000</div><div class="td r g" style="left:1229px;width:81px;padding-right:4.5px">15,574</div><div class="td c g" style="left:1310px;width:81px">6</div><div class="td c g" style="left:1391px;width:78px">142</div><div class="td c g" style="left:1469px;width:78px">200</div><div class="td c g" style="left:1547px;width:78px">479</div><div class="td c g neg" style="left:1625px;width:78px">-279</div></div>
<div class="tr" style="top:364px"><div class="td c" style="left:0px;width:150px">Product 3</div><div class="td c" style="left:150px;width:90px">Mar</div><div class="td r" style="left:240px;width:90px;padding-right:4.5px">60,568</div><div class="td c" style="left:330px;width:90px">23</div><div class="td c" style="left:420px;width:90px">22</div><div class="td c g" style="left:510px;width:82px">23</div><div class="td c g" style="left:592px;width:70px">144</div><div class="td r g" style="left:662px;width:82px;padding-right:4.5px">2,218</div><div class="td c g" style="left:744px;width:90px">27</div><div class="td c g" style="left:834px;width:90px">0</div><div class="td c g opr" style="left:924px;width:72px">119%</div><div class="td r g" style="left:996px;width:80px;padding-right:4.5px">51,005</div><div class="td r g neg" style="left:1076px;width:78px;padding-right:3px">(9,563)</div><div class="td r g" style="left:1154px;width:75px;padding-right:4.5px">8,000</div><div class="td r g" style="left:1229px;width:81px;padding-right:4.5px">6,011</div><div class="td c g" style="left:1310px;width:81px">11</div><div class="td c g" style="left:1391px;width:78px">207</div><div class="td c g" style="left:1469px;width:78px">200</div><div class="td c g" style="left:1547px;width:78px">185</div><div class="td c g" style="left:1625px;width:78px">15</div></div>
<div class="tr" style="top:378px"><div class="td c" style="left:0px;width:150px">Product 3</div><div class="td c" style="left:150px;width:90px">Apr</div><div class="td r" style="left:240px;width:90px;padding-right:4.5px">48,000</div><div class="td c" style="left:330px;width:90px">22</div><div class="td c" style="left:420px;width:90px">22</div><div class="td c g" style="left:510px;width:82px">22</div><div class="td c g" style="left:592px;width:70px">144</div><div class="td r g" style="left:662px;width:82px;padding-right:4.5px">2,218</div><div class="td c g" style="left:744px;width:90px">22</div><div class="td c g" style="left:834px;width:90px">0</div><div class="td c g opy" style="left:924px;width:72px">98%</div><div class="td r g" style="left:996px;width:80px;padding-right:4.5px">48,787</div><div class="td r g" style="left:1076px;width:78px;padding-right:4.5px">787</div><div class="td r g" style="left:1154px;width:75px;padding-right:4.5px">8,000</div><div class="td r g" style="left:1229px;width:81px;padding-right:4.5px">6,798</div><div class="td c g" style="left:1310px;width:81px">9</div><div class="td c g" style="left:1391px;width:78px">195</div><div class="td c g" style="left:1469px;width:78px">200</div><div class="td c g" style="left:1547px;width:78px">209</div><div class="td c g neg" style="left:1625px;width:78px">-9</div></div>
<div class="tr" style="top:392px"><div class="td c" style="left:0px;width:150px">Product 3</div><div class="td c" style="left:150px;width:90px">May</div><div class="td r" style="left:240px;width:90px;padding-right:4.5px">50,000</div><div class="td c" style="left:330px;width:90px">22</div><div class="td c" style="left:420px;width:90px">22</div><div class="td c g" style="left:510px;width:82px">22</div><div class="td c g" style="left:592px;width:70px">144</div><div class="td r g" style="left:662px;width:82px;padding-right:4.5px">2,218</div><div class="td c g" style="left:744px;width:90px">23</div><div class="td c g" style="left:834px;width:90px">0</div><div class="td c g opr" style="left:924px;width:72px">102%</div><div class="td r g" style="left:996px;width:80px;padding-right:4.5px">48,787</div><div class="td r g neg" style="left:1076px;width:78px;padding-right:3px">(1,213)</div><div class="td r g" style="left:1154px;width:75px;padding-right:4.5px">8,000</div><div class="td r g" style="left:1229px;width:81px;padding-right:4.5px">5,586</div><div class="td c g" style="left:1310px;width:81px">9</div><div class="td c g" style="left:1391px;width:78px">198</div><div class="td c g" style="left:1469px;width:78px">200</div><div class="td c g" style="left:1547px;width:78px">172</div><div class="td c g" style="left:1625px;width:78px">28</div></div>
<div class="tr" style="top:406px"><div class="td c" style="left:0px;width:150px">Product 3</div><div class="td c" style="left:150px;width:90px">Jun</div><div class="td r" style="left:240px;width:90px;padding-right:4.5px">45,000</div><div class="td c" style="left:330px;width:90px">22</div><div class="td c" style="left:420px;width:90px">22</div><div class="td c g" style="left:510px;width:82px">23</div><div class="td c g" style="left:592px;width:70px">144</div><div class="td r g" style="left:662px;width:82px;padding-right:4.5px">2,218</div><div class="td c g" style="left:744px;width:90px">20</div><div class="td c g" style="left:834px;width:90px">-1</div><div class="td c g opy" style="left:924px;width:72px">88%</div><div class="td r g" style="left:996px;width:80px;padding-right:4.5px">48,787</div><div class="td r g" style="left:1076px;width:78px;padding-right:4.5px">3,787</div><div class="td r g" style="left:1154px;width:75px;padding-right:4.5px">8,000</div><div class="td r g" style="left:1229px;width:81px;padding-right:4.5px">9,373</div><div class="td c g" style="left:1310px;width:81px">8</div><div class="td c g" style="left:1391px;width:78px">175</div><div class="td c g" style="left:1469px;width:78px">200</div><div class="td c g" style="left:1547px;width:78px">288</div><div class="td c g neg" style="left:1625px;width:78px">-88</div></div>
<div class="tr" style="top:420px"><div class="td c" style="left:0px;width:150px">Product 3</div><div class="td c" style="left:150px;width:90px">Jul</div><div class="td r" style="left:240px;width:90px;padding-right:4.5px">35,000</div><div class="td c" style="left:330px;width:90px">21</div><div class="td c" style="left:420px;width:90px">22</div><div class="td c g" style="left:510px;width:82px">21</div><div class="td c g" style="left:592px;width:70px">144</div><div class="td r g" style="left:662px;width:82px;padding-right:4.5px">2,218</div><div class="td c g" style="left:744px;width:90px">16</div><div class="td c g" style="left:834px;width:90px">0</div><div class="td c g opg" style="left:924px;width:72px">75%</div><div class="td r g" style="left:996px;width:80px;padding-right:4.5px">46,570</div><div class="td r g" style="left:1076px;width:78px;padding-right:4.5px">11,570</div><div class="td r g" style="left:1154px;width:75px;padding-right:4.5px">8,000</div><div class="td r g" style="left:1229px;width:81px;padding-right:4.5px">20,942</div><div class="td c g" style="left:1310px;width:81px">7</div><div class="td c g" style="left:1391px;width:78px">142</div><div class="td c g" style="left:1469px;width:78px">200</div><div class="td c g" style="left:1547px;width:78px">644</div><div class="td c g neg" style="left:1625px;width:78px">-444</div></div>
<div class="tr" style="top:434px"><div class="td c" style="left:0px;width:150px">Product 3</div><div class="td c" style="left:150px;width:90px">Aug</div><div class="td r" style="left:240px;width:90px;padding-right:4.5px">70,000</div><div class="td c" style="left:330px;width:90px">22</div><div class="td c" style="left:420px;width:90px">22</div><div class="td c g" style="left:510px;width:82px">22</div><div class="td c g" style="left:592px;width:70px">144</div><div class="td r g" style="left:662px;width:82px;padding-right:4.5px">2,218</div><div class="td c g" style="left:744px;width:90px">32</div><div class="td c g" style="left:834px;width:90px">0</div><div class="td c g opr" style="left:924px;width:72px">143%</div><div class="td r g" style="left:996px;width:80px;padding-right:4.5px">48,787</div><div class="td r g neg" style="left:1076px;width:78px;padding-right:3px">(21,213)</div><div class="td r g" style="left:1154px;width:75px;padding-right:4.5px">8,000</div><div class="td r g neg" style="left:1229px;width:81px;padding-right:3px">(270)</div><div class="td c g" style="left:1310px;width:81px">13</div><div class="td c g" style="left:1391px;width:78px">198</div><div class="td c g" style="left:1469px;width:78px">200</div><div class="td c g" style="left:1547px;width:78px">0</div><div class="td c g" style="left:1625px;width:78px">200</div></div>
<div class="tr" style="top:448px"><div class="td c" style="left:0px;width:150px">Product 3</div><div class="td c" style="left:150px;width:90px">Sep</div><div class="td r" style="left:240px;width:90px;padding-right:4.5px">75,000</div><div class="td c" style="left:330px;width:90px">22</div><div class="td c" style="left:420px;width:90px">22</div><div class="td c g" style="left:510px;width:82px">23</div><div class="td c g" style="left:592px;width:70px">144</div><div class="td r g" style="left:662px;width:82px;padding-right:4.5px">2,218</div><div class="td c g" style="left:744px;width:90px">34</div><div class="td c g" style="left:834px;width:90px">-1</div><div class="td c g opr" style="left:924px;width:72px">147%</div><div class="td r g" style="left:996px;width:80px;padding-right:4.5px">48,787</div><div class="td r g neg" style="left:1076px;width:78px;padding-right:3px">(26,213)</div><div class="td r g" style="left:1154px;width:75px;padding-right:4.5px">8,000</div><div class="td r g neg" style="left:1229px;width:81px;padding-right:3px">(26,483)</div><div class="td c g" style="left:1310px;width:81px">13</div><div class="td c g" style="left:1391px;width:78px">198</div><div class="td c g" style="left:1469px;width:78px">200</div><div class="td c g" style="left:1547px;width:78px">0</div><div class="td c g" style="left:1625px;width:78px">200</div></div>
<div class="tr" style="top:462px"><div class="td c" style="left:0px;width:150px">Product 3</div><div class="td c" style="left:150px;width:90px">Oct</div><div class="td r" style="left:240px;width:90px;padding-right:4.5px">45,000</div><div class="td c" style="left:330px;width:90px">21</div><div class="td c" style="left:420px;width:90px">22</div><div class="td c g" style="left:510px;width:82px">22</div><div class="td c g" style="left:592px;width:70px">144</div><div class="td r g" style="left:662px;width:82px;padding-right:4.5px">2,218</div><div class="td c g" style="left:744px;width:90px">20</div><div class="td c g" style="left:834px;width:90px">-1</div><div class="td c g opy" style="left:924px;width:72px">92%</div><div class="td r g" style="left:996px;width:80px;padding-right:4.5px">46,570</div><div class="td r g" style="left:1076px;width:78px;padding-right:4.5px">1,570</div><div class="td r g" style="left:1154px;width:75px;padding-right:4.5px">8,000</div><div class="td r g neg" style="left:1229px;width:81px;padding-right:3px">(24,914)</div><div class="td c g" style="left:1310px;width:81px">8</div><div class="td c g" style="left:1391px;width:78px">174</div><div class="td c g" style="left:1469px;width:78px">200</div><div class="td c g" style="left:1547px;width:78px">0</div><div class="td c g" style="left:1625px;width:78px">200</div></div>
<div class="tr" style="top:476px"><div class="td c" style="left:0px;width:150px">Product 3</div><div class="td c" style="left:150px;width:90px">Nov</div><div class="td r" style="left:240px;width:90px;padding-right:4.5px">35,000</div><div class="td c" style="left:330px;width:90px">24</div><div class="td c" style="left:420px;width:90px">22</div><div class="td c g" style="left:510px;width:82px">24</div><div class="td c g" style="left:592px;width:70px">144</div><div class="td r g" style="left:662px;width:82px;padding-right:4.5px">2,218</div><div class="td c g" style="left:744px;width:90px">16</div><div class="td c g" style="left:834px;width:90px">0</div><div class="td c g opg" style="left:924px;width:72px">66%</div><div class="td r g" style="left:996px;width:80px;padding-right:4.5px">53,222</div><div class="td r g" style="left:1076px;width:78px;padding-right:4.5px">18,222</div><div class="td r g" style="left:1154px;width:75px;padding-right:4.5px">8,000</div><div class="td r g neg" style="left:1229px;width:81px;padding-right:3px">(6,691)</div><div class="td c g" style="left:1310px;width:81px">6</div><div class="td c g" style="left:1391px;width:78px">142</div><div class="td c g" style="left:1469px;width:78px">200</div><div class="td c g" style="left:1547px;width:78px">0</div><div class="td c g" style="left:1625px;width:78px">200</div></div>
<div class="tr" style="top:490px"><div class="td c" style="left:0px;width:150px">Product 3</div><div class="td c" style="left:150px;width:90px">Dec</div><div class="td r" style="left:240px;width:90px;padding-right:4.5px">35,000</div><div class="td c" style="left:330px;width:90px">21</div><div class="td c" style="left:420px;width:90px">22</div><div class="td c g" style="left:510px;width:82px">21</div><div class="td c g" style="left:592px;width:70px">144</div><div class="td r g" style="left:662px;width:82px;padding-right:4.5px">2,218</div><div class="td c g" style="left:744px;width:90px">16</div><div class="td c g" style="left:834px;width:90px">0</div><div class="td c g opg" style="left:924px;width:72px">75%</div><div class="td r g" style="left:996px;width:80px;padding-right:4.5px">46,570</div><div class="td r g" style="left:1076px;width:78px;padding-right:4.5px">11,570</div><div class="td r g" style="left:1154px;width:75px;padding-right:4.5px">8,000</div><div class="td r g" style="left:1229px;width:81px;padding-right:4.5px">4,878</div><div class="td c g" style="left:1310px;width:81px">7</div><div class="td c g" style="left:1391px;width:78px">142</div><div class="td c g" style="left:1469px;width:78px">200</div><div class="td c g" style="left:1547px;width:78px">150</div><div class="td c g" style="left:1625px;width:78px">50</div></div>
<div class="tr" style="top:504px"><div class="td c" style="left:0px;width:150px">Product 4</div><div class="td c" style="left:150px;width:90px">Jan</div><div class="td r" style="left:240px;width:90px;padding-right:4.5px">74,169</div><div class="td c" style="left:330px;width:90px">22</div><div class="td c" style="left:420px;width:90px">22</div><div class="td c g" style="left:510px;width:82px">22</div><div class="td c g" style="left:592px;width:70px">200</div><div class="td r g" style="left:662px;width:82px;padding-right:4.5px">3,300</div><div class="td c g" style="left:744px;width:90px">22</div><div class="td c g" style="left:834px;width:90px">0</div><div class="td c g opr" style="left:924px;width:72px">102%</div><div class="td r g" style="left:996px;width:80px;padding-right:4.5px">72,600</div><div class="td r g neg" style="left:1076px;width:78px;padding-right:3px">(1,569)</div><div class="td r g" style="left:1154px;width:75px;padding-right:4.5px">3,000</div><div class="td r g" style="left:1229px;width:81px;padding-right:4.5px">1,431</div><div class="td c g" style="left:1310px;width:81px">6</div><div class="td c g" style="left:1391px;width:78px">132</div><div class="td c g" style="left:1469px;width:78px">300</div><div class="td c g" style="left:1547px;width:78px">31</div><div class="td c g" style="left:1625px;width:78px">269</div></div>
<div class="tr" style="top:518px"><div class="td c" style="left:0px;width:150px">Product 4</div><div class="td c" style="left:150px;width:90px">Feb</div><div class="td r" style="left:240px;width:90px;padding-right:4.5px">66,965</div><div class="td c" style="left:330px;width:90px">22</div><div class="td c" style="left:420px;width:90px">22</div><div class="td c g" style="left:510px;width:82px">22</div><div class="td c g" style="left:592px;width:70px">200</div><div class="td r g" style="left:662px;width:82px;padding-right:4.5px">3,300</div><div class="td c g" style="left:744px;width:90px">20</div><div class="td c g" style="left:834px;width:90px">0</div><div class="td c g opy" style="left:924px;width:72px">92%</div><div class="td r g" style="left:996px;width:80px;padding-right:4.5px">72,600</div><div class="td r g" style="left:1076px;width:78px;padding-right:4.5px">5,635</div><div class="td r g" style="left:1154px;width:75px;padding-right:4.5px">3,000</div><div class="td r g" style="left:1229px;width:81px;padding-right:4.5px">7,066</div><div class="td c g" style="left:1310px;width:81px">6</div><div class="td c g" style="left:1391px;width:78px">122</div><div class="td c g" style="left:1469px;width:78px">300</div><div class="td c g" style="left:1547px;width:78px">151</div><div class="td c g" style="left:1625px;width:78px">149</div></div>
<div class="tr" style="top:532px"><div class="td c" style="left:0px;width:150px">Product 4</div><div class="td c" style="left:150px;width:90px">Mar</div><div class="td r" style="left:240px;width:90px;padding-right:4.5px">64,937</div><div class="td c" style="left:330px;width:90px">22</div><div class="td c" style="left:420px;width:90px">22</div><div class="td c g" style="left:510px;width:82px">23</div><div class="td c g" style="left:592px;width:70px">200</div><div class="td r g" style="left:662px;width:82px;padding-right:4.5px">3,300</div><div class="td c g" style="left:744px;width:90px">20</div><div class="td c g" style="left:834px;width:90px">-1</div><div class="td c g opy" style="left:924px;width:72px">86%</div><div class="td r g" style="left:996px;width:80px;padding-right:4.5px">72,600</div><div class="td r g" style="left:1076px;width:78px;padding-right:4.5px">7,663</div><div class="td r g" style="left:1154px;width:75px;padding-right:4.5px">3,000</div><div class="td r g" style="left:1229px;width:81px;padding-right:4.5px">14,729</div><div class="td c g" style="left:1310px;width:81px">5</div><div class="td c g" style="left:1391px;width:78px">113</div><div class="td c g" style="left:1469px;width:78px">300</div><div class="td c g" style="left:1547px;width:78px">316</div><div class="td c g neg" style="left:1625px;width:78px">-16</div></div>
<div class="tr" style="top:546px"><div class="td c" style="left:0px;width:150px">Product 4</div><div class="td c" style="left:150px;width:90px">Apr</div><div class="td r" style="left:240px;width:90px;padding-right:4.5px">63,912</div><div class="td c" style="left:330px;width:90px">22</div><div class="td c" style="left:420px;width:90px">22</div><div class="td c g" style="left:510px;width:82px">22</div><div class="td c g" style="left:592px;width:70px">200</div><div class="td r g" style="left:662px;width:82px;padding-right:4.5px">3,300</div><div class="td c g" style="left:744px;width:90px">19</div><div class="td c g" style="left:834px;width:90px">0</div><div class="td c g opy" style="left:924px;width:72px">88%</div><div class="td r g" style="left:996px;width:80px;padding-right:4.5px">72,600</div><div class="td r g" style="left:1076px;width:78px;padding-right:4.5px">8,688</div><div class="td r g" style="left:1154px;width:75px;padding-right:4.5px">3,000</div><div class="td r g" style="left:1229px;width:81px;padding-right:4.5px">23,417</div><div class="td c g" style="left:1310px;width:81px">5</div><div class="td c g" style="left:1391px;width:78px">116</div><div class="td c g" style="left:1469px;width:78px">300</div><div class="td c g" style="left:1547px;width:78px">502</div><div class="td c g neg" style="left:1625px;width:78px">-202</div></div>
<div class="tr" style="top:560px"><div class="td c" style="left:0px;width:150px">Product 4</div><div class="td c" style="left:150px;width:90px">May</div><div class="td r" style="left:240px;width:90px;padding-right:4.5px">89,584</div><div class="td c" style="left:330px;width:90px">22</div><div class="td c" style="left:420px;width:90px">22</div><div class="td c g" style="left:510px;width:82px">22</div><div class="td c g" style="left:592px;width:70px">200</div><div class="td r g" style="left:662px;width:82px;padding-right:4.5px">3,300</div><div class="td c g" style="left:744px;width:90px">27</div><div class="td c g" style="left:834px;width:90px">0</div><div class="td c g opr" style="left:924px;width:72px">123%</div><div class="td r g" style="left:996px;width:80px;padding-right:4.5px">72,600</div><div class="td r g neg" style="left:1076px;width:78px;padding-right:3px">(16,984)</div><div class="td r g" style="left:1154px;width:75px;padding-right:4.5px">3,000</div><div class="td r g" style="left:1229px;width:81px;padding-right:4.5px">6,433</div><div class="td c g" style="left:1310px;width:81px">7</div><div class="td c g" style="left:1391px;width:78px">132</div><div class="td c g" style="left:1469px;width:78px">300</div><div class="td c g" style="left:1547px;width:78px">138</div><div class="td c g" style="left:1625px;width:78px">162</div></div>
<div class="tr" style="top:574px"><div class="td c" style="left:0px;width:150px">Product 4</div><div class="td c" style="left:150px;width:90px">Jun</div><div class="td r" style="left:240px;width:90px;padding-right:4.5px">84,231</div><div class="td c" style="left:330px;width:90px">22</div><div class="td c" style="left:420px;width:90px">22</div><div class="td c g" style="left:510px;width:82px">23</div><div class="td c g" style="left:592px;width:70px">200</div><div class="td r g" style="left:662px;width:82px;padding-right:4.5px">3,300</div><div class="td c g" style="left:744px;width:90px">26</div><div class="td c g" style="left:834px;width:90px">0</div><div class="td c g opr" style="left:924px;width:72px">116%</div><div class="td r g" style="left:996px;width:80px;padding-right:4.5px">75,900</div><div class="td r g neg" style="left:1076px;width:78px;padding-right:3px">(8,331)</div><div class="td r g" style="left:1154px;width:75px;padding-right:4.5px">3,000</div><div class="td r g neg" style="left:1229px;width:81px;padding-right:3px">(2,898)</div><div class="td c g" style="left:1310px;width:81px">7</div><div class="td c g" style="left:1391px;width:78px">132</div><div class="td c g" style="left:1469px;width:78px">300</div><div class="td c g" style="left:1547px;width:78px">0</div><div class="td c g" style="left:1625px;width:78px">300</div></div>
</div>
<div class="abs" style="left:0;top:420px;width:1898px;height:1px;background:#8c8c8c"></div>
</body></html>
